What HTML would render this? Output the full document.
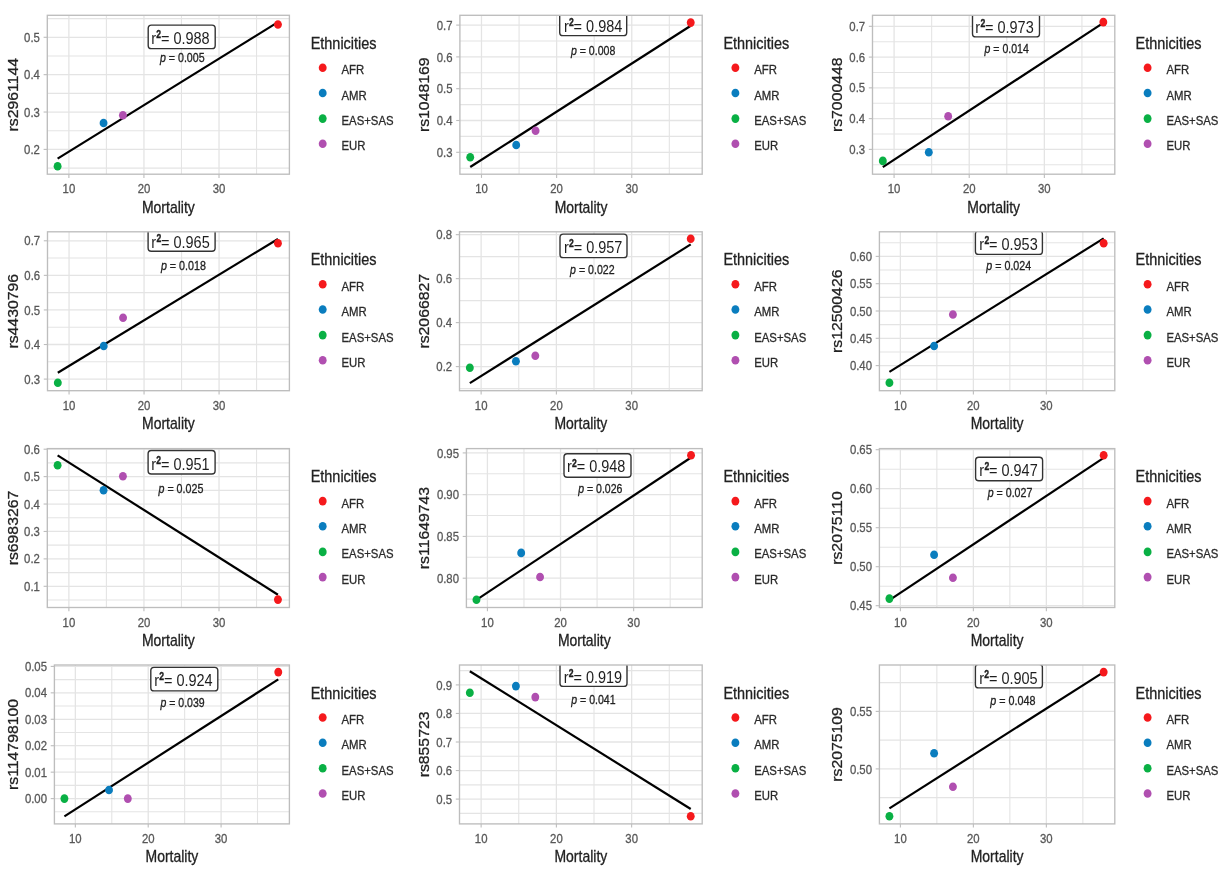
<!DOCTYPE html>
<html><head><meta charset="utf-8"><style>
html,body{margin:0;padding:0;background:#fff;}
svg{display:block;filter:blur(0.35px);}

</style></head><body>
<svg width="1226" height="875" viewBox="0 0 1226 875">
<rect width="1226" height="875" fill="#fff"/>
<clipPath id="c0"><rect x="47.3" y="15.3" width="242.1" height="158.9"/></clipPath>
<g clip-path="url(#c0)">
<line x1="47.3" x2="289.4" y1="168.09" y2="168.09" stroke="#E4E4E4" stroke-width="1.1"/>
<line x1="47.3" x2="289.4" y1="130.72" y2="130.72" stroke="#E4E4E4" stroke-width="1.1"/>
<line x1="47.3" x2="289.4" y1="93.35" y2="93.35" stroke="#E4E4E4" stroke-width="1.1"/>
<line x1="47.3" x2="289.4" y1="55.98" y2="55.98" stroke="#E4E4E4" stroke-width="1.1"/>
<line x1="47.3" x2="289.4" y1="18.61" y2="18.61" stroke="#E4E4E4" stroke-width="1.1"/>
<line x1="106.41" x2="106.41" y1="15.3" y2="174.2" stroke="#E4E4E4" stroke-width="1.1"/>
<line x1="181.48" x2="181.48" y1="15.3" y2="174.2" stroke="#E4E4E4" stroke-width="1.1"/>
<line x1="256.55" x2="256.55" y1="15.3" y2="174.2" stroke="#E4E4E4" stroke-width="1.1"/>
<line x1="47.3" x2="289.4" y1="149.4" y2="149.4" stroke="#E4E4E4" stroke-width="1.3"/>
<line x1="47.3" x2="289.4" y1="112.03" y2="112.03" stroke="#E4E4E4" stroke-width="1.3"/>
<line x1="47.3" x2="289.4" y1="74.66" y2="74.66" stroke="#E4E4E4" stroke-width="1.3"/>
<line x1="47.3" x2="289.4" y1="37.29" y2="37.29" stroke="#E4E4E4" stroke-width="1.3"/>
<line x1="68.88" x2="68.88" y1="15.3" y2="174.2" stroke="#E4E4E4" stroke-width="1.3"/>
<line x1="143.94" x2="143.94" y1="15.3" y2="174.2" stroke="#E4E4E4" stroke-width="1.3"/>
<line x1="219.01" x2="219.01" y1="15.3" y2="174.2" stroke="#E4E4E4" stroke-width="1.3"/>
<line x1="57.61" y1="158.59" x2="277.94" y2="22.14" stroke="#000" stroke-width="2.2" stroke-linecap="butt"/>
<ellipse cx="57.61" cy="166.3" rx="3.95" ry="4.3" fill="#09B044"/>
<ellipse cx="103.56" cy="123" rx="3.95" ry="4.3" fill="#0A7DBE"/>
<ellipse cx="122.93" cy="115.2" rx="3.95" ry="4.3" fill="#B04FB0"/>
<ellipse cx="277.94" cy="24.5" rx="3.95" ry="4.3" fill="#F5191C"/>
<rect x="148.2" y="25.1" width="67" height="23.5" rx="3.2" fill="#fff" stroke="#333" stroke-width="1.4"/>
<text x="0" y="0" transform="translate(151.2,43.5) scale(0.862,1)" font-size="16.8" fill="#1e1e1e" font-family="Liberation Sans, sans-serif">r<tspan font-size="10" font-weight="bold" stroke="#1e1e1e" stroke-width="0.35" dy="-5.6" dx="0.3">2</tspan><tspan dy="5.6" dx="-0.2">= 0.988</tspan></text>
<text x="160" y="62.3" font-size="12.3" fill="#222" textLength="44.6" lengthAdjust="spacingAndGlyphs" font-family="Liberation Sans, sans-serif" stroke="#222" stroke-width="0.3"><tspan font-style="italic">p</tspan> = 0.005</text>
</g>
<rect x="47.3" y="15.3" width="242.1" height="158.9" fill="none" stroke="#BDBDBD" stroke-width="1.35"/>
<line x1="43.6" x2="47.3" y1="149.4" y2="149.4" stroke="#BDBDBD" stroke-width="1.1"/>
<text transform="translate(39.9,154) scale(0.88,1)" text-anchor="end" font-size="12.9" fill="#575757" font-family="Liberation Sans, sans-serif" stroke="#575757" stroke-width="0.3">0.2</text>
<line x1="43.6" x2="47.3" y1="112.03" y2="112.03" stroke="#BDBDBD" stroke-width="1.1"/>
<text transform="translate(39.9,116.63) scale(0.88,1)" text-anchor="end" font-size="12.9" fill="#575757" font-family="Liberation Sans, sans-serif" stroke="#575757" stroke-width="0.3">0.3</text>
<line x1="43.6" x2="47.3" y1="74.66" y2="74.66" stroke="#BDBDBD" stroke-width="1.1"/>
<text transform="translate(39.9,79.26) scale(0.88,1)" text-anchor="end" font-size="12.9" fill="#575757" font-family="Liberation Sans, sans-serif" stroke="#575757" stroke-width="0.3">0.4</text>
<line x1="43.6" x2="47.3" y1="37.29" y2="37.29" stroke="#BDBDBD" stroke-width="1.1"/>
<text transform="translate(39.9,41.89) scale(0.88,1)" text-anchor="end" font-size="12.9" fill="#575757" font-family="Liberation Sans, sans-serif" stroke="#575757" stroke-width="0.3">0.5</text>
<line x1="68.88" x2="68.88" y1="174.2" y2="177.9" stroke="#BDBDBD" stroke-width="1.1"/>
<text transform="translate(68.88,193.4) scale(0.88,1)" text-anchor="middle" font-size="12.9" fill="#575757" font-family="Liberation Sans, sans-serif" stroke="#575757" stroke-width="0.3">10</text>
<line x1="143.94" x2="143.94" y1="174.2" y2="177.9" stroke="#BDBDBD" stroke-width="1.1"/>
<text transform="translate(143.94,193.4) scale(0.88,1)" text-anchor="middle" font-size="12.9" fill="#575757" font-family="Liberation Sans, sans-serif" stroke="#575757" stroke-width="0.3">20</text>
<line x1="219.01" x2="219.01" y1="174.2" y2="177.9" stroke="#BDBDBD" stroke-width="1.1"/>
<text transform="translate(219.01,193.4) scale(0.88,1)" text-anchor="middle" font-size="12.9" fill="#575757" font-family="Liberation Sans, sans-serif" stroke="#575757" stroke-width="0.3">30</text>
<text transform="translate(168.35,212.5) scale(0.885,1)" text-anchor="middle" font-size="15.8" fill="#222" font-family="Liberation Sans, sans-serif" stroke="#222" stroke-width="0.3">Mortality</text>
<text transform="translate(17.6,94.75) scale(0.87,1) rotate(-90)" text-anchor="middle" font-size="15.8" fill="#222" font-family="Liberation Sans, sans-serif" stroke="#222" stroke-width="0.3">rs2961144</text>
<text transform="translate(310.7,48.9) scale(0.915,1)" font-size="15.8" fill="#222" font-family="Liberation Sans, sans-serif" stroke="#222" stroke-width="0.3">Ethnicities</text>
<ellipse cx="322.7" cy="67.8" rx="3.95" ry="4.3" fill="#F5191C"/>
<text transform="translate(341.5,74.3) scale(0.88,1)" font-size="12.9" fill="#2a2a2a" font-family="Liberation Sans, sans-serif" stroke="#2a2a2a" stroke-width="0.3">AFR</text>
<ellipse cx="322.7" cy="93" rx="3.95" ry="4.3" fill="#0A7DBE"/>
<text transform="translate(341.5,99.5) scale(0.88,1)" font-size="12.9" fill="#2a2a2a" font-family="Liberation Sans, sans-serif" stroke="#2a2a2a" stroke-width="0.3">AMR</text>
<ellipse cx="322.7" cy="118.6" rx="3.95" ry="4.3" fill="#09B044"/>
<text transform="translate(341.5,125.1) scale(0.88,1)" font-size="12.9" fill="#2a2a2a" font-family="Liberation Sans, sans-serif" stroke="#2a2a2a" stroke-width="0.3">EAS+SAS</text>
<ellipse cx="322.7" cy="143.8" rx="3.95" ry="4.3" fill="#B04FB0"/>
<text transform="translate(341.5,150.3) scale(0.88,1)" font-size="12.9" fill="#2a2a2a" font-family="Liberation Sans, sans-serif" stroke="#2a2a2a" stroke-width="0.3">EUR</text>
<clipPath id="c1"><rect x="459.9" y="15.3" width="242.3" height="158.9"/></clipPath>
<g clip-path="url(#c1)">
<line x1="459.9" x2="702.2" y1="168.2" y2="168.2" stroke="#E4E4E4" stroke-width="1.1"/>
<line x1="459.9" x2="702.2" y1="136.4" y2="136.4" stroke="#E4E4E4" stroke-width="1.1"/>
<line x1="459.9" x2="702.2" y1="104.6" y2="104.6" stroke="#E4E4E4" stroke-width="1.1"/>
<line x1="459.9" x2="702.2" y1="72.8" y2="72.8" stroke="#E4E4E4" stroke-width="1.1"/>
<line x1="459.9" x2="702.2" y1="41" y2="41" stroke="#E4E4E4" stroke-width="1.1"/>
<line x1="519.06" x2="519.06" y1="15.3" y2="174.2" stroke="#E4E4E4" stroke-width="1.1"/>
<line x1="594.19" x2="594.19" y1="15.3" y2="174.2" stroke="#E4E4E4" stroke-width="1.1"/>
<line x1="669.32" x2="669.32" y1="15.3" y2="174.2" stroke="#E4E4E4" stroke-width="1.1"/>
<line x1="459.9" x2="702.2" y1="152.3" y2="152.3" stroke="#E4E4E4" stroke-width="1.3"/>
<line x1="459.9" x2="702.2" y1="120.5" y2="120.5" stroke="#E4E4E4" stroke-width="1.3"/>
<line x1="459.9" x2="702.2" y1="88.7" y2="88.7" stroke="#E4E4E4" stroke-width="1.3"/>
<line x1="459.9" x2="702.2" y1="56.9" y2="56.9" stroke="#E4E4E4" stroke-width="1.3"/>
<line x1="459.9" x2="702.2" y1="25.1" y2="25.1" stroke="#E4E4E4" stroke-width="1.3"/>
<line x1="481.49" x2="481.49" y1="15.3" y2="174.2" stroke="#E4E4E4" stroke-width="1.3"/>
<line x1="556.62" x2="556.62" y1="15.3" y2="174.2" stroke="#E4E4E4" stroke-width="1.3"/>
<line x1="631.76" x2="631.76" y1="15.3" y2="174.2" stroke="#E4E4E4" stroke-width="1.3"/>
<line x1="470.22" y1="167" x2="690.73" y2="25.8" stroke="#000" stroke-width="2.2" stroke-linecap="butt"/>
<ellipse cx="470.22" cy="157.2" rx="3.95" ry="4.3" fill="#09B044"/>
<ellipse cx="516.2" cy="145" rx="3.95" ry="4.3" fill="#0A7DBE"/>
<ellipse cx="535.59" cy="130.7" rx="3.95" ry="4.3" fill="#B04FB0"/>
<ellipse cx="690.73" cy="22.6" rx="3.95" ry="4.3" fill="#F5191C"/>
<rect x="559.7" y="12.15" width="67" height="23.5" rx="3.2" fill="#fff" stroke="#333" stroke-width="1.4"/>
<text x="0" y="0" transform="translate(563.9,31.75) scale(0.862,1)" font-size="16.8" fill="#1e1e1e" font-family="Liberation Sans, sans-serif">r<tspan font-size="10" font-weight="bold" stroke="#1e1e1e" stroke-width="0.35" dy="-5.6" dx="0.3">2</tspan><tspan dy="5.6" dx="-0.2">= 0.984</tspan></text>
<text x="570.9" y="54.5" font-size="12.3" fill="#222" textLength="44.4" lengthAdjust="spacingAndGlyphs" font-family="Liberation Sans, sans-serif" stroke="#222" stroke-width="0.3"><tspan font-style="italic">p</tspan> = 0.008</text>
</g>
<rect x="459.9" y="15.3" width="242.3" height="158.9" fill="none" stroke="#BDBDBD" stroke-width="1.35"/>
<line x1="456.2" x2="459.9" y1="152.3" y2="152.3" stroke="#BDBDBD" stroke-width="1.1"/>
<text transform="translate(452.5,156.9) scale(0.88,1)" text-anchor="end" font-size="12.9" fill="#575757" font-family="Liberation Sans, sans-serif" stroke="#575757" stroke-width="0.3">0.3</text>
<line x1="456.2" x2="459.9" y1="120.5" y2="120.5" stroke="#BDBDBD" stroke-width="1.1"/>
<text transform="translate(452.5,125.1) scale(0.88,1)" text-anchor="end" font-size="12.9" fill="#575757" font-family="Liberation Sans, sans-serif" stroke="#575757" stroke-width="0.3">0.4</text>
<line x1="456.2" x2="459.9" y1="88.7" y2="88.7" stroke="#BDBDBD" stroke-width="1.1"/>
<text transform="translate(452.5,93.3) scale(0.88,1)" text-anchor="end" font-size="12.9" fill="#575757" font-family="Liberation Sans, sans-serif" stroke="#575757" stroke-width="0.3">0.5</text>
<line x1="456.2" x2="459.9" y1="56.9" y2="56.9" stroke="#BDBDBD" stroke-width="1.1"/>
<text transform="translate(452.5,61.5) scale(0.88,1)" text-anchor="end" font-size="12.9" fill="#575757" font-family="Liberation Sans, sans-serif" stroke="#575757" stroke-width="0.3">0.6</text>
<line x1="456.2" x2="459.9" y1="25.1" y2="25.1" stroke="#BDBDBD" stroke-width="1.1"/>
<text transform="translate(452.5,29.7) scale(0.88,1)" text-anchor="end" font-size="12.9" fill="#575757" font-family="Liberation Sans, sans-serif" stroke="#575757" stroke-width="0.3">0.7</text>
<line x1="481.49" x2="481.49" y1="174.2" y2="177.9" stroke="#BDBDBD" stroke-width="1.1"/>
<text transform="translate(481.49,193.4) scale(0.88,1)" text-anchor="middle" font-size="12.9" fill="#575757" font-family="Liberation Sans, sans-serif" stroke="#575757" stroke-width="0.3">10</text>
<line x1="556.62" x2="556.62" y1="174.2" y2="177.9" stroke="#BDBDBD" stroke-width="1.1"/>
<text transform="translate(556.62,193.4) scale(0.88,1)" text-anchor="middle" font-size="12.9" fill="#575757" font-family="Liberation Sans, sans-serif" stroke="#575757" stroke-width="0.3">20</text>
<line x1="631.76" x2="631.76" y1="174.2" y2="177.9" stroke="#BDBDBD" stroke-width="1.1"/>
<text transform="translate(631.76,193.4) scale(0.88,1)" text-anchor="middle" font-size="12.9" fill="#575757" font-family="Liberation Sans, sans-serif" stroke="#575757" stroke-width="0.3">30</text>
<text transform="translate(581.05,212.5) scale(0.885,1)" text-anchor="middle" font-size="15.8" fill="#222" font-family="Liberation Sans, sans-serif" stroke="#222" stroke-width="0.3">Mortality</text>
<text transform="translate(429.4,94.75) scale(0.87,1) rotate(-90)" text-anchor="middle" font-size="15.8" fill="#222" font-family="Liberation Sans, sans-serif" stroke="#222" stroke-width="0.3">rs1048169</text>
<text transform="translate(723.4,48.9) scale(0.915,1)" font-size="15.8" fill="#222" font-family="Liberation Sans, sans-serif" stroke="#222" stroke-width="0.3">Ethnicities</text>
<ellipse cx="735.4" cy="67.8" rx="3.95" ry="4.3" fill="#F5191C"/>
<text transform="translate(754.2,74.3) scale(0.88,1)" font-size="12.9" fill="#2a2a2a" font-family="Liberation Sans, sans-serif" stroke="#2a2a2a" stroke-width="0.3">AFR</text>
<ellipse cx="735.4" cy="93" rx="3.95" ry="4.3" fill="#0A7DBE"/>
<text transform="translate(754.2,99.5) scale(0.88,1)" font-size="12.9" fill="#2a2a2a" font-family="Liberation Sans, sans-serif" stroke="#2a2a2a" stroke-width="0.3">AMR</text>
<ellipse cx="735.4" cy="118.6" rx="3.95" ry="4.3" fill="#09B044"/>
<text transform="translate(754.2,125.1) scale(0.88,1)" font-size="12.9" fill="#2a2a2a" font-family="Liberation Sans, sans-serif" stroke="#2a2a2a" stroke-width="0.3">EAS+SAS</text>
<ellipse cx="735.4" cy="143.8" rx="3.95" ry="4.3" fill="#B04FB0"/>
<text transform="translate(754.2,150.3) scale(0.88,1)" font-size="12.9" fill="#2a2a2a" font-family="Liberation Sans, sans-serif" stroke="#2a2a2a" stroke-width="0.3">EUR</text>
<clipPath id="c2"><rect x="872.5" y="15.3" width="242.3" height="158.9"/></clipPath>
<g clip-path="url(#c2)">
<line x1="872.5" x2="1114.8" y1="164.78" y2="164.78" stroke="#E4E4E4" stroke-width="1.1"/>
<line x1="872.5" x2="1114.8" y1="134.02" y2="134.02" stroke="#E4E4E4" stroke-width="1.1"/>
<line x1="872.5" x2="1114.8" y1="103.25" y2="103.25" stroke="#E4E4E4" stroke-width="1.1"/>
<line x1="872.5" x2="1114.8" y1="72.48" y2="72.48" stroke="#E4E4E4" stroke-width="1.1"/>
<line x1="872.5" x2="1114.8" y1="41.71" y2="41.71" stroke="#E4E4E4" stroke-width="1.1"/>
<line x1="931.66" x2="931.66" y1="15.3" y2="174.2" stroke="#E4E4E4" stroke-width="1.1"/>
<line x1="1006.79" x2="1006.79" y1="15.3" y2="174.2" stroke="#E4E4E4" stroke-width="1.1"/>
<line x1="1081.92" x2="1081.92" y1="15.3" y2="174.2" stroke="#E4E4E4" stroke-width="1.1"/>
<line x1="872.5" x2="1114.8" y1="149.4" y2="149.4" stroke="#E4E4E4" stroke-width="1.3"/>
<line x1="872.5" x2="1114.8" y1="118.63" y2="118.63" stroke="#E4E4E4" stroke-width="1.3"/>
<line x1="872.5" x2="1114.8" y1="87.86" y2="87.86" stroke="#E4E4E4" stroke-width="1.3"/>
<line x1="872.5" x2="1114.8" y1="57.09" y2="57.09" stroke="#E4E4E4" stroke-width="1.3"/>
<line x1="872.5" x2="1114.8" y1="26.32" y2="26.32" stroke="#E4E4E4" stroke-width="1.3"/>
<line x1="894.09" x2="894.09" y1="15.3" y2="174.2" stroke="#E4E4E4" stroke-width="1.3"/>
<line x1="969.22" x2="969.22" y1="15.3" y2="174.2" stroke="#E4E4E4" stroke-width="1.3"/>
<line x1="1044.36" x2="1044.36" y1="15.3" y2="174.2" stroke="#E4E4E4" stroke-width="1.3"/>
<line x1="882.82" y1="167.18" x2="1103.33" y2="22.84" stroke="#000" stroke-width="2.2" stroke-linecap="butt"/>
<ellipse cx="882.82" cy="160.9" rx="3.95" ry="4.3" fill="#09B044"/>
<ellipse cx="928.8" cy="152.3" rx="3.95" ry="4.3" fill="#0A7DBE"/>
<ellipse cx="948.19" cy="116.2" rx="3.95" ry="4.3" fill="#B04FB0"/>
<ellipse cx="1103.33" cy="22.1" rx="3.95" ry="4.3" fill="#F5191C"/>
<rect x="972.5" y="13.35" width="67" height="23.5" rx="3.2" fill="#fff" stroke="#333" stroke-width="1.4"/>
<text x="0" y="0" transform="translate(975.3,32.6) scale(0.862,1)" font-size="16.8" fill="#1e1e1e" font-family="Liberation Sans, sans-serif">r<tspan font-size="10" font-weight="bold" stroke="#1e1e1e" stroke-width="0.35" dy="-5.6" dx="0.3">2</tspan><tspan dy="5.6" dx="-0.2">= 0.973</tspan></text>
<text x="984.5" y="53.2" font-size="12.3" fill="#222" textLength="44.3" lengthAdjust="spacingAndGlyphs" font-family="Liberation Sans, sans-serif" stroke="#222" stroke-width="0.3"><tspan font-style="italic">p</tspan> = 0.014</text>
</g>
<rect x="872.5" y="15.3" width="242.3" height="158.9" fill="none" stroke="#BDBDBD" stroke-width="1.35"/>
<line x1="868.8" x2="872.5" y1="149.4" y2="149.4" stroke="#BDBDBD" stroke-width="1.1"/>
<text transform="translate(865.1,154) scale(0.88,1)" text-anchor="end" font-size="12.9" fill="#575757" font-family="Liberation Sans, sans-serif" stroke="#575757" stroke-width="0.3">0.3</text>
<line x1="868.8" x2="872.5" y1="118.63" y2="118.63" stroke="#BDBDBD" stroke-width="1.1"/>
<text transform="translate(865.1,123.23) scale(0.88,1)" text-anchor="end" font-size="12.9" fill="#575757" font-family="Liberation Sans, sans-serif" stroke="#575757" stroke-width="0.3">0.4</text>
<line x1="868.8" x2="872.5" y1="87.86" y2="87.86" stroke="#BDBDBD" stroke-width="1.1"/>
<text transform="translate(865.1,92.46) scale(0.88,1)" text-anchor="end" font-size="12.9" fill="#575757" font-family="Liberation Sans, sans-serif" stroke="#575757" stroke-width="0.3">0.5</text>
<line x1="868.8" x2="872.5" y1="57.09" y2="57.09" stroke="#BDBDBD" stroke-width="1.1"/>
<text transform="translate(865.1,61.69) scale(0.88,1)" text-anchor="end" font-size="12.9" fill="#575757" font-family="Liberation Sans, sans-serif" stroke="#575757" stroke-width="0.3">0.6</text>
<line x1="868.8" x2="872.5" y1="26.32" y2="26.32" stroke="#BDBDBD" stroke-width="1.1"/>
<text transform="translate(865.1,30.92) scale(0.88,1)" text-anchor="end" font-size="12.9" fill="#575757" font-family="Liberation Sans, sans-serif" stroke="#575757" stroke-width="0.3">0.7</text>
<line x1="894.09" x2="894.09" y1="174.2" y2="177.9" stroke="#BDBDBD" stroke-width="1.1"/>
<text transform="translate(894.09,193.4) scale(0.88,1)" text-anchor="middle" font-size="12.9" fill="#575757" font-family="Liberation Sans, sans-serif" stroke="#575757" stroke-width="0.3">10</text>
<line x1="969.22" x2="969.22" y1="174.2" y2="177.9" stroke="#BDBDBD" stroke-width="1.1"/>
<text transform="translate(969.22,193.4) scale(0.88,1)" text-anchor="middle" font-size="12.9" fill="#575757" font-family="Liberation Sans, sans-serif" stroke="#575757" stroke-width="0.3">20</text>
<line x1="1044.36" x2="1044.36" y1="174.2" y2="177.9" stroke="#BDBDBD" stroke-width="1.1"/>
<text transform="translate(1044.36,193.4) scale(0.88,1)" text-anchor="middle" font-size="12.9" fill="#575757" font-family="Liberation Sans, sans-serif" stroke="#575757" stroke-width="0.3">30</text>
<text transform="translate(993.65,212.5) scale(0.885,1)" text-anchor="middle" font-size="15.8" fill="#222" font-family="Liberation Sans, sans-serif" stroke="#222" stroke-width="0.3">Mortality</text>
<text transform="translate(842.2,94.75) scale(0.87,1) rotate(-90)" text-anchor="middle" font-size="15.8" fill="#222" font-family="Liberation Sans, sans-serif" stroke="#222" stroke-width="0.3">rs7000448</text>
<text transform="translate(1135.6,48.9) scale(0.915,1)" font-size="15.8" fill="#222" font-family="Liberation Sans, sans-serif" stroke="#222" stroke-width="0.3">Ethnicities</text>
<ellipse cx="1147.6" cy="67.8" rx="3.95" ry="4.3" fill="#F5191C"/>
<text transform="translate(1166.4,74.3) scale(0.88,1)" font-size="12.9" fill="#2a2a2a" font-family="Liberation Sans, sans-serif" stroke="#2a2a2a" stroke-width="0.3">AFR</text>
<ellipse cx="1147.6" cy="93" rx="3.95" ry="4.3" fill="#0A7DBE"/>
<text transform="translate(1166.4,99.5) scale(0.88,1)" font-size="12.9" fill="#2a2a2a" font-family="Liberation Sans, sans-serif" stroke="#2a2a2a" stroke-width="0.3">AMR</text>
<ellipse cx="1147.6" cy="118.6" rx="3.95" ry="4.3" fill="#09B044"/>
<text transform="translate(1166.4,125.1) scale(0.88,1)" font-size="12.9" fill="#2a2a2a" font-family="Liberation Sans, sans-serif" stroke="#2a2a2a" stroke-width="0.3">EAS+SAS</text>
<ellipse cx="1147.6" cy="143.8" rx="3.95" ry="4.3" fill="#B04FB0"/>
<text transform="translate(1166.4,150.3) scale(0.88,1)" font-size="12.9" fill="#2a2a2a" font-family="Liberation Sans, sans-serif" stroke="#2a2a2a" stroke-width="0.3">EUR</text>
<clipPath id="c3"><rect x="47.5" y="231.8" width="241.9" height="158.9"/></clipPath>
<g clip-path="url(#c3)">
<line x1="47.5" x2="289.4" y1="361.81" y2="361.81" stroke="#E4E4E4" stroke-width="1.1"/>
<line x1="47.5" x2="289.4" y1="327.23" y2="327.23" stroke="#E4E4E4" stroke-width="1.1"/>
<line x1="47.5" x2="289.4" y1="292.65" y2="292.65" stroke="#E4E4E4" stroke-width="1.1"/>
<line x1="47.5" x2="289.4" y1="258.07" y2="258.07" stroke="#E4E4E4" stroke-width="1.1"/>
<line x1="106.56" x2="106.56" y1="231.8" y2="390.7" stroke="#E4E4E4" stroke-width="1.1"/>
<line x1="181.57" x2="181.57" y1="231.8" y2="390.7" stroke="#E4E4E4" stroke-width="1.1"/>
<line x1="256.58" x2="256.58" y1="231.8" y2="390.7" stroke="#E4E4E4" stroke-width="1.1"/>
<line x1="47.5" x2="289.4" y1="379.1" y2="379.1" stroke="#E4E4E4" stroke-width="1.3"/>
<line x1="47.5" x2="289.4" y1="344.52" y2="344.52" stroke="#E4E4E4" stroke-width="1.3"/>
<line x1="47.5" x2="289.4" y1="309.94" y2="309.94" stroke="#E4E4E4" stroke-width="1.3"/>
<line x1="47.5" x2="289.4" y1="275.36" y2="275.36" stroke="#E4E4E4" stroke-width="1.3"/>
<line x1="47.5" x2="289.4" y1="240.78" y2="240.78" stroke="#E4E4E4" stroke-width="1.3"/>
<line x1="69.06" x2="69.06" y1="231.8" y2="390.7" stroke="#E4E4E4" stroke-width="1.3"/>
<line x1="144.06" x2="144.06" y1="231.8" y2="390.7" stroke="#E4E4E4" stroke-width="1.3"/>
<line x1="219.07" x2="219.07" y1="231.8" y2="390.7" stroke="#E4E4E4" stroke-width="1.3"/>
<line x1="57.81" y1="372.81" x2="277.95" y2="238.95" stroke="#000" stroke-width="2.2" stroke-linecap="butt"/>
<ellipse cx="57.81" cy="382.8" rx="3.95" ry="4.3" fill="#09B044"/>
<ellipse cx="103.71" cy="346" rx="3.95" ry="4.3" fill="#0A7DBE"/>
<ellipse cx="123.06" cy="317.7" rx="3.95" ry="4.3" fill="#B04FB0"/>
<ellipse cx="277.95" cy="243.3" rx="3.95" ry="4.3" fill="#F5191C"/>
<rect x="148.1" y="227.8" width="67" height="23.5" rx="3.2" fill="#fff" stroke="#333" stroke-width="1.4"/>
<text x="0" y="0" transform="translate(151.3,247.5) scale(0.862,1)" font-size="16.8" fill="#1e1e1e" font-family="Liberation Sans, sans-serif">r<tspan font-size="10" font-weight="bold" stroke="#1e1e1e" stroke-width="0.35" dy="-5.6" dx="0.3">2</tspan><tspan dy="5.6" dx="-0.2">= 0.965</tspan></text>
<text x="160.9" y="269.5" font-size="12.3" fill="#222" textLength="45" lengthAdjust="spacingAndGlyphs" font-family="Liberation Sans, sans-serif" stroke="#222" stroke-width="0.3"><tspan font-style="italic">p</tspan> = 0.018</text>
</g>
<rect x="47.5" y="231.8" width="241.9" height="158.9" fill="none" stroke="#BDBDBD" stroke-width="1.35"/>
<line x1="43.8" x2="47.5" y1="379.1" y2="379.1" stroke="#BDBDBD" stroke-width="1.1"/>
<text transform="translate(40.1,383.7) scale(0.88,1)" text-anchor="end" font-size="12.9" fill="#575757" font-family="Liberation Sans, sans-serif" stroke="#575757" stroke-width="0.3">0.3</text>
<line x1="43.8" x2="47.5" y1="344.52" y2="344.52" stroke="#BDBDBD" stroke-width="1.1"/>
<text transform="translate(40.1,349.12) scale(0.88,1)" text-anchor="end" font-size="12.9" fill="#575757" font-family="Liberation Sans, sans-serif" stroke="#575757" stroke-width="0.3">0.4</text>
<line x1="43.8" x2="47.5" y1="309.94" y2="309.94" stroke="#BDBDBD" stroke-width="1.1"/>
<text transform="translate(40.1,314.54) scale(0.88,1)" text-anchor="end" font-size="12.9" fill="#575757" font-family="Liberation Sans, sans-serif" stroke="#575757" stroke-width="0.3">0.5</text>
<line x1="43.8" x2="47.5" y1="275.36" y2="275.36" stroke="#BDBDBD" stroke-width="1.1"/>
<text transform="translate(40.1,279.96) scale(0.88,1)" text-anchor="end" font-size="12.9" fill="#575757" font-family="Liberation Sans, sans-serif" stroke="#575757" stroke-width="0.3">0.6</text>
<line x1="43.8" x2="47.5" y1="240.78" y2="240.78" stroke="#BDBDBD" stroke-width="1.1"/>
<text transform="translate(40.1,245.38) scale(0.88,1)" text-anchor="end" font-size="12.9" fill="#575757" font-family="Liberation Sans, sans-serif" stroke="#575757" stroke-width="0.3">0.7</text>
<line x1="69.06" x2="69.06" y1="390.7" y2="394.4" stroke="#BDBDBD" stroke-width="1.1"/>
<text transform="translate(69.06,409.9) scale(0.88,1)" text-anchor="middle" font-size="12.9" fill="#575757" font-family="Liberation Sans, sans-serif" stroke="#575757" stroke-width="0.3">10</text>
<line x1="144.06" x2="144.06" y1="390.7" y2="394.4" stroke="#BDBDBD" stroke-width="1.1"/>
<text transform="translate(144.06,409.9) scale(0.88,1)" text-anchor="middle" font-size="12.9" fill="#575757" font-family="Liberation Sans, sans-serif" stroke="#575757" stroke-width="0.3">20</text>
<line x1="219.07" x2="219.07" y1="390.7" y2="394.4" stroke="#BDBDBD" stroke-width="1.1"/>
<text transform="translate(219.07,409.9) scale(0.88,1)" text-anchor="middle" font-size="12.9" fill="#575757" font-family="Liberation Sans, sans-serif" stroke="#575757" stroke-width="0.3">30</text>
<text transform="translate(168.45,429) scale(0.885,1)" text-anchor="middle" font-size="15.8" fill="#222" font-family="Liberation Sans, sans-serif" stroke="#222" stroke-width="0.3">Mortality</text>
<text transform="translate(17.6,311.25) scale(0.87,1) rotate(-90)" text-anchor="middle" font-size="15.8" fill="#222" font-family="Liberation Sans, sans-serif" stroke="#222" stroke-width="0.3">rs4430796</text>
<text transform="translate(310.7,265.4) scale(0.915,1)" font-size="15.8" fill="#222" font-family="Liberation Sans, sans-serif" stroke="#222" stroke-width="0.3">Ethnicities</text>
<ellipse cx="322.7" cy="284.3" rx="3.95" ry="4.3" fill="#F5191C"/>
<text transform="translate(341.5,290.8) scale(0.88,1)" font-size="12.9" fill="#2a2a2a" font-family="Liberation Sans, sans-serif" stroke="#2a2a2a" stroke-width="0.3">AFR</text>
<ellipse cx="322.7" cy="309.5" rx="3.95" ry="4.3" fill="#0A7DBE"/>
<text transform="translate(341.5,316) scale(0.88,1)" font-size="12.9" fill="#2a2a2a" font-family="Liberation Sans, sans-serif" stroke="#2a2a2a" stroke-width="0.3">AMR</text>
<ellipse cx="322.7" cy="335.1" rx="3.95" ry="4.3" fill="#09B044"/>
<text transform="translate(341.5,341.6) scale(0.88,1)" font-size="12.9" fill="#2a2a2a" font-family="Liberation Sans, sans-serif" stroke="#2a2a2a" stroke-width="0.3">EAS+SAS</text>
<ellipse cx="322.7" cy="360.3" rx="3.95" ry="4.3" fill="#B04FB0"/>
<text transform="translate(341.5,366.8) scale(0.88,1)" font-size="12.9" fill="#2a2a2a" font-family="Liberation Sans, sans-serif" stroke="#2a2a2a" stroke-width="0.3">EUR</text>
<clipPath id="c4"><rect x="459.5" y="231.8" width="242.7" height="158.9"/></clipPath>
<g clip-path="url(#c4)">
<line x1="459.5" x2="702.2" y1="388.59" y2="388.59" stroke="#E4E4E4" stroke-width="1.1"/>
<line x1="459.5" x2="702.2" y1="344.61" y2="344.61" stroke="#E4E4E4" stroke-width="1.1"/>
<line x1="459.5" x2="702.2" y1="300.63" y2="300.63" stroke="#E4E4E4" stroke-width="1.1"/>
<line x1="459.5" x2="702.2" y1="256.65" y2="256.65" stroke="#E4E4E4" stroke-width="1.1"/>
<line x1="518.76" x2="518.76" y1="231.8" y2="390.7" stroke="#E4E4E4" stroke-width="1.1"/>
<line x1="594.01" x2="594.01" y1="231.8" y2="390.7" stroke="#E4E4E4" stroke-width="1.1"/>
<line x1="669.27" x2="669.27" y1="231.8" y2="390.7" stroke="#E4E4E4" stroke-width="1.1"/>
<line x1="459.5" x2="702.2" y1="366.6" y2="366.6" stroke="#E4E4E4" stroke-width="1.3"/>
<line x1="459.5" x2="702.2" y1="322.62" y2="322.62" stroke="#E4E4E4" stroke-width="1.3"/>
<line x1="459.5" x2="702.2" y1="278.64" y2="278.64" stroke="#E4E4E4" stroke-width="1.3"/>
<line x1="459.5" x2="702.2" y1="234.66" y2="234.66" stroke="#E4E4E4" stroke-width="1.3"/>
<line x1="481.13" x2="481.13" y1="231.8" y2="390.7" stroke="#E4E4E4" stroke-width="1.3"/>
<line x1="556.38" x2="556.38" y1="231.8" y2="390.7" stroke="#E4E4E4" stroke-width="1.3"/>
<line x1="631.64" x2="631.64" y1="231.8" y2="390.7" stroke="#E4E4E4" stroke-width="1.3"/>
<line x1="469.84" y1="383.1" x2="690.72" y2="244.37" stroke="#000" stroke-width="2.2" stroke-linecap="butt"/>
<ellipse cx="469.84" cy="367.8" rx="3.95" ry="4.3" fill="#09B044"/>
<ellipse cx="515.9" cy="361.2" rx="3.95" ry="4.3" fill="#0A7DBE"/>
<ellipse cx="535.31" cy="355.8" rx="3.95" ry="4.3" fill="#B04FB0"/>
<ellipse cx="690.72" cy="238.8" rx="3.95" ry="4.3" fill="#F5191C"/>
<rect x="560" y="234.1" width="67" height="23.5" rx="3.2" fill="#fff" stroke="#333" stroke-width="1.4"/>
<text x="0" y="0" transform="translate(564,252.6) scale(0.862,1)" font-size="16.8" fill="#1e1e1e" font-family="Liberation Sans, sans-serif">r<tspan font-size="10" font-weight="bold" stroke="#1e1e1e" stroke-width="0.35" dy="-5.6" dx="0.3">2</tspan><tspan dy="5.6" dx="-0.2">= 0.957</tspan></text>
<text x="570.1" y="273.6" font-size="12.3" fill="#222" textLength="44.5" lengthAdjust="spacingAndGlyphs" font-family="Liberation Sans, sans-serif" stroke="#222" stroke-width="0.3"><tspan font-style="italic">p</tspan> = 0.022</text>
</g>
<rect x="459.5" y="231.8" width="242.7" height="158.9" fill="none" stroke="#BDBDBD" stroke-width="1.35"/>
<line x1="455.8" x2="459.5" y1="366.6" y2="366.6" stroke="#BDBDBD" stroke-width="1.1"/>
<text transform="translate(452.1,371.2) scale(0.88,1)" text-anchor="end" font-size="12.9" fill="#575757" font-family="Liberation Sans, sans-serif" stroke="#575757" stroke-width="0.3">0.2</text>
<line x1="455.8" x2="459.5" y1="322.62" y2="322.62" stroke="#BDBDBD" stroke-width="1.1"/>
<text transform="translate(452.1,327.22) scale(0.88,1)" text-anchor="end" font-size="12.9" fill="#575757" font-family="Liberation Sans, sans-serif" stroke="#575757" stroke-width="0.3">0.4</text>
<line x1="455.8" x2="459.5" y1="278.64" y2="278.64" stroke="#BDBDBD" stroke-width="1.1"/>
<text transform="translate(452.1,283.24) scale(0.88,1)" text-anchor="end" font-size="12.9" fill="#575757" font-family="Liberation Sans, sans-serif" stroke="#575757" stroke-width="0.3">0.6</text>
<line x1="455.8" x2="459.5" y1="234.66" y2="234.66" stroke="#BDBDBD" stroke-width="1.1"/>
<text transform="translate(452.1,239.26) scale(0.88,1)" text-anchor="end" font-size="12.9" fill="#575757" font-family="Liberation Sans, sans-serif" stroke="#575757" stroke-width="0.3">0.8</text>
<line x1="481.13" x2="481.13" y1="390.7" y2="394.4" stroke="#BDBDBD" stroke-width="1.1"/>
<text transform="translate(481.13,409.9) scale(0.88,1)" text-anchor="middle" font-size="12.9" fill="#575757" font-family="Liberation Sans, sans-serif" stroke="#575757" stroke-width="0.3">10</text>
<line x1="556.38" x2="556.38" y1="390.7" y2="394.4" stroke="#BDBDBD" stroke-width="1.1"/>
<text transform="translate(556.38,409.9) scale(0.88,1)" text-anchor="middle" font-size="12.9" fill="#575757" font-family="Liberation Sans, sans-serif" stroke="#575757" stroke-width="0.3">20</text>
<line x1="631.64" x2="631.64" y1="390.7" y2="394.4" stroke="#BDBDBD" stroke-width="1.1"/>
<text transform="translate(631.64,409.9) scale(0.88,1)" text-anchor="middle" font-size="12.9" fill="#575757" font-family="Liberation Sans, sans-serif" stroke="#575757" stroke-width="0.3">30</text>
<text transform="translate(580.85,429) scale(0.885,1)" text-anchor="middle" font-size="15.8" fill="#222" font-family="Liberation Sans, sans-serif" stroke="#222" stroke-width="0.3">Mortality</text>
<text transform="translate(429.4,311.25) scale(0.87,1) rotate(-90)" text-anchor="middle" font-size="15.8" fill="#222" font-family="Liberation Sans, sans-serif" stroke="#222" stroke-width="0.3">rs2066827</text>
<text transform="translate(723.4,265.4) scale(0.915,1)" font-size="15.8" fill="#222" font-family="Liberation Sans, sans-serif" stroke="#222" stroke-width="0.3">Ethnicities</text>
<ellipse cx="735.4" cy="284.3" rx="3.95" ry="4.3" fill="#F5191C"/>
<text transform="translate(754.2,290.8) scale(0.88,1)" font-size="12.9" fill="#2a2a2a" font-family="Liberation Sans, sans-serif" stroke="#2a2a2a" stroke-width="0.3">AFR</text>
<ellipse cx="735.4" cy="309.5" rx="3.95" ry="4.3" fill="#0A7DBE"/>
<text transform="translate(754.2,316) scale(0.88,1)" font-size="12.9" fill="#2a2a2a" font-family="Liberation Sans, sans-serif" stroke="#2a2a2a" stroke-width="0.3">AMR</text>
<ellipse cx="735.4" cy="335.1" rx="3.95" ry="4.3" fill="#09B044"/>
<text transform="translate(754.2,341.6) scale(0.88,1)" font-size="12.9" fill="#2a2a2a" font-family="Liberation Sans, sans-serif" stroke="#2a2a2a" stroke-width="0.3">EAS+SAS</text>
<ellipse cx="735.4" cy="360.3" rx="3.95" ry="4.3" fill="#B04FB0"/>
<text transform="translate(754.2,366.8) scale(0.88,1)" font-size="12.9" fill="#2a2a2a" font-family="Liberation Sans, sans-serif" stroke="#2a2a2a" stroke-width="0.3">EUR</text>
<clipPath id="c5"><rect x="879.4" y="231.8" width="235.4" height="158.9"/></clipPath>
<g clip-path="url(#c5)">
<line x1="879.4" x2="1114.8" y1="379.25" y2="379.25" stroke="#E4E4E4" stroke-width="1.1"/>
<line x1="879.4" x2="1114.8" y1="351.95" y2="351.95" stroke="#E4E4E4" stroke-width="1.1"/>
<line x1="879.4" x2="1114.8" y1="324.65" y2="324.65" stroke="#E4E4E4" stroke-width="1.1"/>
<line x1="879.4" x2="1114.8" y1="297.35" y2="297.35" stroke="#E4E4E4" stroke-width="1.1"/>
<line x1="879.4" x2="1114.8" y1="270.05" y2="270.05" stroke="#E4E4E4" stroke-width="1.1"/>
<line x1="879.4" x2="1114.8" y1="242.75" y2="242.75" stroke="#E4E4E4" stroke-width="1.1"/>
<line x1="936.87" x2="936.87" y1="231.8" y2="390.7" stroke="#E4E4E4" stroke-width="1.1"/>
<line x1="1009.87" x2="1009.87" y1="231.8" y2="390.7" stroke="#E4E4E4" stroke-width="1.1"/>
<line x1="1082.86" x2="1082.86" y1="231.8" y2="390.7" stroke="#E4E4E4" stroke-width="1.1"/>
<line x1="879.4" x2="1114.8" y1="365.6" y2="365.6" stroke="#E4E4E4" stroke-width="1.3"/>
<line x1="879.4" x2="1114.8" y1="338.3" y2="338.3" stroke="#E4E4E4" stroke-width="1.3"/>
<line x1="879.4" x2="1114.8" y1="311" y2="311" stroke="#E4E4E4" stroke-width="1.3"/>
<line x1="879.4" x2="1114.8" y1="283.7" y2="283.7" stroke="#E4E4E4" stroke-width="1.3"/>
<line x1="879.4" x2="1114.8" y1="256.4" y2="256.4" stroke="#E4E4E4" stroke-width="1.3"/>
<line x1="900.38" x2="900.38" y1="231.8" y2="390.7" stroke="#E4E4E4" stroke-width="1.3"/>
<line x1="973.37" x2="973.37" y1="231.8" y2="390.7" stroke="#E4E4E4" stroke-width="1.3"/>
<line x1="1046.36" x2="1046.36" y1="231.8" y2="390.7" stroke="#E4E4E4" stroke-width="1.3"/>
<line x1="889.43" y1="371.84" x2="1103.66" y2="238.44" stroke="#000" stroke-width="2.2" stroke-linecap="butt"/>
<ellipse cx="889.43" cy="382.8" rx="3.95" ry="4.3" fill="#09B044"/>
<ellipse cx="934.1" cy="346" rx="3.95" ry="4.3" fill="#0A7DBE"/>
<ellipse cx="952.93" cy="314.5" rx="3.95" ry="4.3" fill="#B04FB0"/>
<ellipse cx="1103.66" cy="243.3" rx="3.95" ry="4.3" fill="#F5191C"/>
<rect x="975.4" y="230.9" width="67" height="23.5" rx="3.2" fill="#fff" stroke="#333" stroke-width="1.4"/>
<text x="0" y="0" transform="translate(979.3,249.6) scale(0.862,1)" font-size="16.8" fill="#1e1e1e" font-family="Liberation Sans, sans-serif">r<tspan font-size="10" font-weight="bold" stroke="#1e1e1e" stroke-width="0.35" dy="-5.6" dx="0.3">2</tspan><tspan dy="5.6" dx="-0.2">= 0.953</tspan></text>
<text x="986.3" y="269.5" font-size="12.3" fill="#222" textLength="44.9" lengthAdjust="spacingAndGlyphs" font-family="Liberation Sans, sans-serif" stroke="#222" stroke-width="0.3"><tspan font-style="italic">p</tspan> = 0.024</text>
</g>
<rect x="879.4" y="231.8" width="235.4" height="158.9" fill="none" stroke="#BDBDBD" stroke-width="1.35"/>
<line x1="875.7" x2="879.4" y1="365.6" y2="365.6" stroke="#BDBDBD" stroke-width="1.1"/>
<text transform="translate(872,370.2) scale(0.88,1)" text-anchor="end" font-size="12.9" fill="#575757" font-family="Liberation Sans, sans-serif" stroke="#575757" stroke-width="0.3">0.40</text>
<line x1="875.7" x2="879.4" y1="338.3" y2="338.3" stroke="#BDBDBD" stroke-width="1.1"/>
<text transform="translate(872,342.9) scale(0.88,1)" text-anchor="end" font-size="12.9" fill="#575757" font-family="Liberation Sans, sans-serif" stroke="#575757" stroke-width="0.3">0.45</text>
<line x1="875.7" x2="879.4" y1="311" y2="311" stroke="#BDBDBD" stroke-width="1.1"/>
<text transform="translate(872,315.6) scale(0.88,1)" text-anchor="end" font-size="12.9" fill="#575757" font-family="Liberation Sans, sans-serif" stroke="#575757" stroke-width="0.3">0.50</text>
<line x1="875.7" x2="879.4" y1="283.7" y2="283.7" stroke="#BDBDBD" stroke-width="1.1"/>
<text transform="translate(872,288.3) scale(0.88,1)" text-anchor="end" font-size="12.9" fill="#575757" font-family="Liberation Sans, sans-serif" stroke="#575757" stroke-width="0.3">0.55</text>
<line x1="875.7" x2="879.4" y1="256.4" y2="256.4" stroke="#BDBDBD" stroke-width="1.1"/>
<text transform="translate(872,261) scale(0.88,1)" text-anchor="end" font-size="12.9" fill="#575757" font-family="Liberation Sans, sans-serif" stroke="#575757" stroke-width="0.3">0.60</text>
<line x1="900.38" x2="900.38" y1="390.7" y2="394.4" stroke="#BDBDBD" stroke-width="1.1"/>
<text transform="translate(900.38,409.9) scale(0.88,1)" text-anchor="middle" font-size="12.9" fill="#575757" font-family="Liberation Sans, sans-serif" stroke="#575757" stroke-width="0.3">10</text>
<line x1="973.37" x2="973.37" y1="390.7" y2="394.4" stroke="#BDBDBD" stroke-width="1.1"/>
<text transform="translate(973.37,409.9) scale(0.88,1)" text-anchor="middle" font-size="12.9" fill="#575757" font-family="Liberation Sans, sans-serif" stroke="#575757" stroke-width="0.3">20</text>
<line x1="1046.36" x2="1046.36" y1="390.7" y2="394.4" stroke="#BDBDBD" stroke-width="1.1"/>
<text transform="translate(1046.36,409.9) scale(0.88,1)" text-anchor="middle" font-size="12.9" fill="#575757" font-family="Liberation Sans, sans-serif" stroke="#575757" stroke-width="0.3">30</text>
<text transform="translate(997.1,429) scale(0.885,1)" text-anchor="middle" font-size="15.8" fill="#222" font-family="Liberation Sans, sans-serif" stroke="#222" stroke-width="0.3">Mortality</text>
<text transform="translate(842.2,311.25) scale(0.87,1) rotate(-90)" text-anchor="middle" font-size="15.8" fill="#222" font-family="Liberation Sans, sans-serif" stroke="#222" stroke-width="0.3">rs12500426</text>
<text transform="translate(1135.6,265.4) scale(0.915,1)" font-size="15.8" fill="#222" font-family="Liberation Sans, sans-serif" stroke="#222" stroke-width="0.3">Ethnicities</text>
<ellipse cx="1147.6" cy="284.3" rx="3.95" ry="4.3" fill="#F5191C"/>
<text transform="translate(1166.4,290.8) scale(0.88,1)" font-size="12.9" fill="#2a2a2a" font-family="Liberation Sans, sans-serif" stroke="#2a2a2a" stroke-width="0.3">AFR</text>
<ellipse cx="1147.6" cy="309.5" rx="3.95" ry="4.3" fill="#0A7DBE"/>
<text transform="translate(1166.4,316) scale(0.88,1)" font-size="12.9" fill="#2a2a2a" font-family="Liberation Sans, sans-serif" stroke="#2a2a2a" stroke-width="0.3">AMR</text>
<ellipse cx="1147.6" cy="335.1" rx="3.95" ry="4.3" fill="#09B044"/>
<text transform="translate(1166.4,341.6) scale(0.88,1)" font-size="12.9" fill="#2a2a2a" font-family="Liberation Sans, sans-serif" stroke="#2a2a2a" stroke-width="0.3">EAS+SAS</text>
<ellipse cx="1147.6" cy="360.3" rx="3.95" ry="4.3" fill="#B04FB0"/>
<text transform="translate(1166.4,366.8) scale(0.88,1)" font-size="12.9" fill="#2a2a2a" font-family="Liberation Sans, sans-serif" stroke="#2a2a2a" stroke-width="0.3">EUR</text>
<clipPath id="c6"><rect x="47.3" y="448.6" width="242.1" height="158.9"/></clipPath>
<g clip-path="url(#c6)">
<line x1="47.3" x2="289.4" y1="600.01" y2="600.01" stroke="#E4E4E4" stroke-width="1.1"/>
<line x1="47.3" x2="289.4" y1="572.59" y2="572.59" stroke="#E4E4E4" stroke-width="1.1"/>
<line x1="47.3" x2="289.4" y1="545.17" y2="545.17" stroke="#E4E4E4" stroke-width="1.1"/>
<line x1="47.3" x2="289.4" y1="517.75" y2="517.75" stroke="#E4E4E4" stroke-width="1.1"/>
<line x1="47.3" x2="289.4" y1="490.33" y2="490.33" stroke="#E4E4E4" stroke-width="1.1"/>
<line x1="47.3" x2="289.4" y1="462.91" y2="462.91" stroke="#E4E4E4" stroke-width="1.1"/>
<line x1="106.41" x2="106.41" y1="448.6" y2="607.5" stroke="#E4E4E4" stroke-width="1.1"/>
<line x1="181.48" x2="181.48" y1="448.6" y2="607.5" stroke="#E4E4E4" stroke-width="1.1"/>
<line x1="256.55" x2="256.55" y1="448.6" y2="607.5" stroke="#E4E4E4" stroke-width="1.1"/>
<line x1="47.3" x2="289.4" y1="586.3" y2="586.3" stroke="#E4E4E4" stroke-width="1.3"/>
<line x1="47.3" x2="289.4" y1="558.88" y2="558.88" stroke="#E4E4E4" stroke-width="1.3"/>
<line x1="47.3" x2="289.4" y1="531.46" y2="531.46" stroke="#E4E4E4" stroke-width="1.3"/>
<line x1="47.3" x2="289.4" y1="504.04" y2="504.04" stroke="#E4E4E4" stroke-width="1.3"/>
<line x1="47.3" x2="289.4" y1="476.62" y2="476.62" stroke="#E4E4E4" stroke-width="1.3"/>
<line x1="47.3" x2="289.4" y1="449.2" y2="449.2" stroke="#E4E4E4" stroke-width="1.3"/>
<line x1="68.88" x2="68.88" y1="448.6" y2="607.5" stroke="#E4E4E4" stroke-width="1.3"/>
<line x1="143.94" x2="143.94" y1="448.6" y2="607.5" stroke="#E4E4E4" stroke-width="1.3"/>
<line x1="219.01" x2="219.01" y1="448.6" y2="607.5" stroke="#E4E4E4" stroke-width="1.3"/>
<line x1="57.61" y1="455.36" x2="277.94" y2="594.73" stroke="#000" stroke-width="2.2" stroke-linecap="butt"/>
<ellipse cx="57.61" cy="465.2" rx="3.95" ry="4.3" fill="#09B044"/>
<ellipse cx="103.56" cy="490.2" rx="3.95" ry="4.3" fill="#0A7DBE"/>
<ellipse cx="122.93" cy="476.2" rx="3.95" ry="4.3" fill="#B04FB0"/>
<ellipse cx="277.94" cy="599.6" rx="3.95" ry="4.3" fill="#F5191C"/>
<rect x="148.1" y="450.5" width="67" height="23.5" rx="3.2" fill="#fff" stroke="#333" stroke-width="1.4"/>
<text x="0" y="0" transform="translate(151.2,469.6) scale(0.862,1)" font-size="16.8" fill="#1e1e1e" font-family="Liberation Sans, sans-serif">r<tspan font-size="10" font-weight="bold" stroke="#1e1e1e" stroke-width="0.35" dy="-5.6" dx="0.3">2</tspan><tspan dy="5.6" dx="-0.2">= 0.951</tspan></text>
<text x="158.5" y="492.6" font-size="12.3" fill="#222" textLength="44.9" lengthAdjust="spacingAndGlyphs" font-family="Liberation Sans, sans-serif" stroke="#222" stroke-width="0.3"><tspan font-style="italic">p</tspan> = 0.025</text>
</g>
<rect x="47.3" y="448.6" width="242.1" height="158.9" fill="none" stroke="#BDBDBD" stroke-width="1.35"/>
<line x1="43.6" x2="47.3" y1="586.3" y2="586.3" stroke="#BDBDBD" stroke-width="1.1"/>
<text transform="translate(39.9,590.9) scale(0.88,1)" text-anchor="end" font-size="12.9" fill="#575757" font-family="Liberation Sans, sans-serif" stroke="#575757" stroke-width="0.3">0.1</text>
<line x1="43.6" x2="47.3" y1="558.88" y2="558.88" stroke="#BDBDBD" stroke-width="1.1"/>
<text transform="translate(39.9,563.48) scale(0.88,1)" text-anchor="end" font-size="12.9" fill="#575757" font-family="Liberation Sans, sans-serif" stroke="#575757" stroke-width="0.3">0.2</text>
<line x1="43.6" x2="47.3" y1="531.46" y2="531.46" stroke="#BDBDBD" stroke-width="1.1"/>
<text transform="translate(39.9,536.06) scale(0.88,1)" text-anchor="end" font-size="12.9" fill="#575757" font-family="Liberation Sans, sans-serif" stroke="#575757" stroke-width="0.3">0.3</text>
<line x1="43.6" x2="47.3" y1="504.04" y2="504.04" stroke="#BDBDBD" stroke-width="1.1"/>
<text transform="translate(39.9,508.64) scale(0.88,1)" text-anchor="end" font-size="12.9" fill="#575757" font-family="Liberation Sans, sans-serif" stroke="#575757" stroke-width="0.3">0.4</text>
<line x1="43.6" x2="47.3" y1="476.62" y2="476.62" stroke="#BDBDBD" stroke-width="1.1"/>
<text transform="translate(39.9,481.22) scale(0.88,1)" text-anchor="end" font-size="12.9" fill="#575757" font-family="Liberation Sans, sans-serif" stroke="#575757" stroke-width="0.3">0.5</text>
<line x1="43.6" x2="47.3" y1="449.2" y2="449.2" stroke="#BDBDBD" stroke-width="1.1"/>
<text transform="translate(39.9,453.8) scale(0.88,1)" text-anchor="end" font-size="12.9" fill="#575757" font-family="Liberation Sans, sans-serif" stroke="#575757" stroke-width="0.3">0.6</text>
<line x1="68.88" x2="68.88" y1="607.5" y2="611.2" stroke="#BDBDBD" stroke-width="1.1"/>
<text transform="translate(68.88,626.7) scale(0.88,1)" text-anchor="middle" font-size="12.9" fill="#575757" font-family="Liberation Sans, sans-serif" stroke="#575757" stroke-width="0.3">10</text>
<line x1="143.94" x2="143.94" y1="607.5" y2="611.2" stroke="#BDBDBD" stroke-width="1.1"/>
<text transform="translate(143.94,626.7) scale(0.88,1)" text-anchor="middle" font-size="12.9" fill="#575757" font-family="Liberation Sans, sans-serif" stroke="#575757" stroke-width="0.3">20</text>
<line x1="219.01" x2="219.01" y1="607.5" y2="611.2" stroke="#BDBDBD" stroke-width="1.1"/>
<text transform="translate(219.01,626.7) scale(0.88,1)" text-anchor="middle" font-size="12.9" fill="#575757" font-family="Liberation Sans, sans-serif" stroke="#575757" stroke-width="0.3">30</text>
<text transform="translate(168.35,645.8) scale(0.885,1)" text-anchor="middle" font-size="15.8" fill="#222" font-family="Liberation Sans, sans-serif" stroke="#222" stroke-width="0.3">Mortality</text>
<text transform="translate(17.6,528.05) scale(0.87,1) rotate(-90)" text-anchor="middle" font-size="15.8" fill="#222" font-family="Liberation Sans, sans-serif" stroke="#222" stroke-width="0.3">rs6983267</text>
<text transform="translate(310.7,482.2) scale(0.915,1)" font-size="15.8" fill="#222" font-family="Liberation Sans, sans-serif" stroke="#222" stroke-width="0.3">Ethnicities</text>
<ellipse cx="322.7" cy="501.1" rx="3.95" ry="4.3" fill="#F5191C"/>
<text transform="translate(341.5,507.6) scale(0.88,1)" font-size="12.9" fill="#2a2a2a" font-family="Liberation Sans, sans-serif" stroke="#2a2a2a" stroke-width="0.3">AFR</text>
<ellipse cx="322.7" cy="526.3" rx="3.95" ry="4.3" fill="#0A7DBE"/>
<text transform="translate(341.5,532.8) scale(0.88,1)" font-size="12.9" fill="#2a2a2a" font-family="Liberation Sans, sans-serif" stroke="#2a2a2a" stroke-width="0.3">AMR</text>
<ellipse cx="322.7" cy="551.9" rx="3.95" ry="4.3" fill="#09B044"/>
<text transform="translate(341.5,558.4) scale(0.88,1)" font-size="12.9" fill="#2a2a2a" font-family="Liberation Sans, sans-serif" stroke="#2a2a2a" stroke-width="0.3">EAS+SAS</text>
<ellipse cx="322.7" cy="577.1" rx="3.95" ry="4.3" fill="#B04FB0"/>
<text transform="translate(341.5,583.6) scale(0.88,1)" font-size="12.9" fill="#2a2a2a" font-family="Liberation Sans, sans-serif" stroke="#2a2a2a" stroke-width="0.3">EUR</text>
<clipPath id="c7"><rect x="466.4" y="448.6" width="235.8" height="158.9"/></clipPath>
<g clip-path="url(#c7)">
<line x1="466.4" x2="702.2" y1="599.08" y2="599.08" stroke="#E4E4E4" stroke-width="1.1"/>
<line x1="466.4" x2="702.2" y1="557.32" y2="557.32" stroke="#E4E4E4" stroke-width="1.1"/>
<line x1="466.4" x2="702.2" y1="515.55" y2="515.55" stroke="#E4E4E4" stroke-width="1.1"/>
<line x1="466.4" x2="702.2" y1="473.79" y2="473.79" stroke="#E4E4E4" stroke-width="1.1"/>
<line x1="523.97" x2="523.97" y1="448.6" y2="607.5" stroke="#E4E4E4" stroke-width="1.1"/>
<line x1="597.09" x2="597.09" y1="448.6" y2="607.5" stroke="#E4E4E4" stroke-width="1.1"/>
<line x1="670.2" x2="670.2" y1="448.6" y2="607.5" stroke="#E4E4E4" stroke-width="1.1"/>
<line x1="466.4" x2="702.2" y1="578.2" y2="578.2" stroke="#E4E4E4" stroke-width="1.3"/>
<line x1="466.4" x2="702.2" y1="536.44" y2="536.44" stroke="#E4E4E4" stroke-width="1.3"/>
<line x1="466.4" x2="702.2" y1="494.67" y2="494.67" stroke="#E4E4E4" stroke-width="1.3"/>
<line x1="466.4" x2="702.2" y1="452.91" y2="452.91" stroke="#E4E4E4" stroke-width="1.3"/>
<line x1="487.41" x2="487.41" y1="448.6" y2="607.5" stroke="#E4E4E4" stroke-width="1.3"/>
<line x1="560.53" x2="560.53" y1="448.6" y2="607.5" stroke="#E4E4E4" stroke-width="1.3"/>
<line x1="633.65" x2="633.65" y1="448.6" y2="607.5" stroke="#E4E4E4" stroke-width="1.3"/>
<line x1="476.45" y1="599.81" x2="691.04" y2="457.46" stroke="#000" stroke-width="2.2" stroke-linecap="butt"/>
<ellipse cx="476.45" cy="599.8" rx="3.95" ry="4.3" fill="#09B044"/>
<ellipse cx="521.19" cy="552.9" rx="3.95" ry="4.3" fill="#0A7DBE"/>
<ellipse cx="540.06" cy="577" rx="3.95" ry="4.3" fill="#B04FB0"/>
<ellipse cx="691.04" cy="455.3" rx="3.95" ry="4.3" fill="#F5191C"/>
<rect x="564" y="453.7" width="67" height="23.5" rx="3.2" fill="#fff" stroke="#333" stroke-width="1.4"/>
<text x="0" y="0" transform="translate(567,472.4) scale(0.862,1)" font-size="16.8" fill="#1e1e1e" font-family="Liberation Sans, sans-serif">r<tspan font-size="10" font-weight="bold" stroke="#1e1e1e" stroke-width="0.35" dy="-5.6" dx="0.3">2</tspan><tspan dy="5.6" dx="-0.2">= 0.948</tspan></text>
<text x="578.2" y="492.6" font-size="12.3" fill="#222" textLength="44.2" lengthAdjust="spacingAndGlyphs" font-family="Liberation Sans, sans-serif" stroke="#222" stroke-width="0.3"><tspan font-style="italic">p</tspan> = 0.026</text>
</g>
<rect x="466.4" y="448.6" width="235.8" height="158.9" fill="none" stroke="#BDBDBD" stroke-width="1.35"/>
<line x1="462.7" x2="466.4" y1="578.2" y2="578.2" stroke="#BDBDBD" stroke-width="1.1"/>
<text transform="translate(459,582.8) scale(0.88,1)" text-anchor="end" font-size="12.9" fill="#575757" font-family="Liberation Sans, sans-serif" stroke="#575757" stroke-width="0.3">0.80</text>
<line x1="462.7" x2="466.4" y1="536.44" y2="536.44" stroke="#BDBDBD" stroke-width="1.1"/>
<text transform="translate(459,541.04) scale(0.88,1)" text-anchor="end" font-size="12.9" fill="#575757" font-family="Liberation Sans, sans-serif" stroke="#575757" stroke-width="0.3">0.85</text>
<line x1="462.7" x2="466.4" y1="494.67" y2="494.67" stroke="#BDBDBD" stroke-width="1.1"/>
<text transform="translate(459,499.27) scale(0.88,1)" text-anchor="end" font-size="12.9" fill="#575757" font-family="Liberation Sans, sans-serif" stroke="#575757" stroke-width="0.3">0.90</text>
<line x1="462.7" x2="466.4" y1="452.91" y2="452.91" stroke="#BDBDBD" stroke-width="1.1"/>
<text transform="translate(459,457.51) scale(0.88,1)" text-anchor="end" font-size="12.9" fill="#575757" font-family="Liberation Sans, sans-serif" stroke="#575757" stroke-width="0.3">0.95</text>
<line x1="487.41" x2="487.41" y1="607.5" y2="611.2" stroke="#BDBDBD" stroke-width="1.1"/>
<text transform="translate(487.41,626.7) scale(0.88,1)" text-anchor="middle" font-size="12.9" fill="#575757" font-family="Liberation Sans, sans-serif" stroke="#575757" stroke-width="0.3">10</text>
<line x1="560.53" x2="560.53" y1="607.5" y2="611.2" stroke="#BDBDBD" stroke-width="1.1"/>
<text transform="translate(560.53,626.7) scale(0.88,1)" text-anchor="middle" font-size="12.9" fill="#575757" font-family="Liberation Sans, sans-serif" stroke="#575757" stroke-width="0.3">20</text>
<line x1="633.65" x2="633.65" y1="607.5" y2="611.2" stroke="#BDBDBD" stroke-width="1.1"/>
<text transform="translate(633.65,626.7) scale(0.88,1)" text-anchor="middle" font-size="12.9" fill="#575757" font-family="Liberation Sans, sans-serif" stroke="#575757" stroke-width="0.3">30</text>
<text transform="translate(584.3,645.8) scale(0.885,1)" text-anchor="middle" font-size="15.8" fill="#222" font-family="Liberation Sans, sans-serif" stroke="#222" stroke-width="0.3">Mortality</text>
<text transform="translate(429.4,528.05) scale(0.87,1) rotate(-90)" text-anchor="middle" font-size="15.8" fill="#222" font-family="Liberation Sans, sans-serif" stroke="#222" stroke-width="0.3">rs11649743</text>
<text transform="translate(723.4,482.2) scale(0.915,1)" font-size="15.8" fill="#222" font-family="Liberation Sans, sans-serif" stroke="#222" stroke-width="0.3">Ethnicities</text>
<ellipse cx="735.4" cy="501.1" rx="3.95" ry="4.3" fill="#F5191C"/>
<text transform="translate(754.2,507.6) scale(0.88,1)" font-size="12.9" fill="#2a2a2a" font-family="Liberation Sans, sans-serif" stroke="#2a2a2a" stroke-width="0.3">AFR</text>
<ellipse cx="735.4" cy="526.3" rx="3.95" ry="4.3" fill="#0A7DBE"/>
<text transform="translate(754.2,532.8) scale(0.88,1)" font-size="12.9" fill="#2a2a2a" font-family="Liberation Sans, sans-serif" stroke="#2a2a2a" stroke-width="0.3">AMR</text>
<ellipse cx="735.4" cy="551.9" rx="3.95" ry="4.3" fill="#09B044"/>
<text transform="translate(754.2,558.4) scale(0.88,1)" font-size="12.9" fill="#2a2a2a" font-family="Liberation Sans, sans-serif" stroke="#2a2a2a" stroke-width="0.3">EAS+SAS</text>
<ellipse cx="735.4" cy="577.1" rx="3.95" ry="4.3" fill="#B04FB0"/>
<text transform="translate(754.2,583.6) scale(0.88,1)" font-size="12.9" fill="#2a2a2a" font-family="Liberation Sans, sans-serif" stroke="#2a2a2a" stroke-width="0.3">EUR</text>
<clipPath id="c8"><rect x="879.4" y="448.6" width="235.4" height="158.9"/></clipPath>
<g clip-path="url(#c8)">
<line x1="879.4" x2="1114.8" y1="586.2" y2="586.2" stroke="#E4E4E4" stroke-width="1.1"/>
<line x1="879.4" x2="1114.8" y1="547.2" y2="547.2" stroke="#E4E4E4" stroke-width="1.1"/>
<line x1="879.4" x2="1114.8" y1="508.2" y2="508.2" stroke="#E4E4E4" stroke-width="1.1"/>
<line x1="879.4" x2="1114.8" y1="469.2" y2="469.2" stroke="#E4E4E4" stroke-width="1.1"/>
<line x1="936.87" x2="936.87" y1="448.6" y2="607.5" stroke="#E4E4E4" stroke-width="1.1"/>
<line x1="1009.87" x2="1009.87" y1="448.6" y2="607.5" stroke="#E4E4E4" stroke-width="1.1"/>
<line x1="1082.86" x2="1082.86" y1="448.6" y2="607.5" stroke="#E4E4E4" stroke-width="1.1"/>
<line x1="879.4" x2="1114.8" y1="605.7" y2="605.7" stroke="#E4E4E4" stroke-width="1.3"/>
<line x1="879.4" x2="1114.8" y1="566.7" y2="566.7" stroke="#E4E4E4" stroke-width="1.3"/>
<line x1="879.4" x2="1114.8" y1="527.7" y2="527.7" stroke="#E4E4E4" stroke-width="1.3"/>
<line x1="879.4" x2="1114.8" y1="488.7" y2="488.7" stroke="#E4E4E4" stroke-width="1.3"/>
<line x1="879.4" x2="1114.8" y1="449.7" y2="449.7" stroke="#E4E4E4" stroke-width="1.3"/>
<line x1="900.38" x2="900.38" y1="448.6" y2="607.5" stroke="#E4E4E4" stroke-width="1.3"/>
<line x1="973.37" x2="973.37" y1="448.6" y2="607.5" stroke="#E4E4E4" stroke-width="1.3"/>
<line x1="1046.36" x2="1046.36" y1="448.6" y2="607.5" stroke="#E4E4E4" stroke-width="1.3"/>
<line x1="889.43" y1="600.11" x2="1103.66" y2="457.89" stroke="#000" stroke-width="2.2" stroke-linecap="butt"/>
<ellipse cx="889.43" cy="598.6" rx="3.95" ry="4.3" fill="#09B044"/>
<ellipse cx="934.1" cy="554.8" rx="3.95" ry="4.3" fill="#0A7DBE"/>
<ellipse cx="952.93" cy="577.7" rx="3.95" ry="4.3" fill="#B04FB0"/>
<ellipse cx="1103.66" cy="455.3" rx="3.95" ry="4.3" fill="#F5191C"/>
<rect x="975.6" y="457.2" width="67" height="23.5" rx="3.2" fill="#fff" stroke="#333" stroke-width="1.4"/>
<text x="0" y="0" transform="translate(979.3,475.6) scale(0.862,1)" font-size="16.8" fill="#1e1e1e" font-family="Liberation Sans, sans-serif">r<tspan font-size="10" font-weight="bold" stroke="#1e1e1e" stroke-width="0.35" dy="-5.6" dx="0.3">2</tspan><tspan dy="5.6" dx="-0.2">= 0.947</tspan></text>
<text x="987.7" y="496.8" font-size="12.3" fill="#222" textLength="44.7" lengthAdjust="spacingAndGlyphs" font-family="Liberation Sans, sans-serif" stroke="#222" stroke-width="0.3"><tspan font-style="italic">p</tspan> = 0.027</text>
</g>
<rect x="879.4" y="448.6" width="235.4" height="158.9" fill="none" stroke="#BDBDBD" stroke-width="1.35"/>
<line x1="875.7" x2="879.4" y1="605.7" y2="605.7" stroke="#BDBDBD" stroke-width="1.1"/>
<text transform="translate(872,610.3) scale(0.88,1)" text-anchor="end" font-size="12.9" fill="#575757" font-family="Liberation Sans, sans-serif" stroke="#575757" stroke-width="0.3">0.45</text>
<line x1="875.7" x2="879.4" y1="566.7" y2="566.7" stroke="#BDBDBD" stroke-width="1.1"/>
<text transform="translate(872,571.3) scale(0.88,1)" text-anchor="end" font-size="12.9" fill="#575757" font-family="Liberation Sans, sans-serif" stroke="#575757" stroke-width="0.3">0.50</text>
<line x1="875.7" x2="879.4" y1="527.7" y2="527.7" stroke="#BDBDBD" stroke-width="1.1"/>
<text transform="translate(872,532.3) scale(0.88,1)" text-anchor="end" font-size="12.9" fill="#575757" font-family="Liberation Sans, sans-serif" stroke="#575757" stroke-width="0.3">0.55</text>
<line x1="875.7" x2="879.4" y1="488.7" y2="488.7" stroke="#BDBDBD" stroke-width="1.1"/>
<text transform="translate(872,493.3) scale(0.88,1)" text-anchor="end" font-size="12.9" fill="#575757" font-family="Liberation Sans, sans-serif" stroke="#575757" stroke-width="0.3">0.60</text>
<line x1="875.7" x2="879.4" y1="449.7" y2="449.7" stroke="#BDBDBD" stroke-width="1.1"/>
<text transform="translate(872,454.3) scale(0.88,1)" text-anchor="end" font-size="12.9" fill="#575757" font-family="Liberation Sans, sans-serif" stroke="#575757" stroke-width="0.3">0.65</text>
<line x1="900.38" x2="900.38" y1="607.5" y2="611.2" stroke="#BDBDBD" stroke-width="1.1"/>
<text transform="translate(900.38,626.7) scale(0.88,1)" text-anchor="middle" font-size="12.9" fill="#575757" font-family="Liberation Sans, sans-serif" stroke="#575757" stroke-width="0.3">10</text>
<line x1="973.37" x2="973.37" y1="607.5" y2="611.2" stroke="#BDBDBD" stroke-width="1.1"/>
<text transform="translate(973.37,626.7) scale(0.88,1)" text-anchor="middle" font-size="12.9" fill="#575757" font-family="Liberation Sans, sans-serif" stroke="#575757" stroke-width="0.3">20</text>
<line x1="1046.36" x2="1046.36" y1="607.5" y2="611.2" stroke="#BDBDBD" stroke-width="1.1"/>
<text transform="translate(1046.36,626.7) scale(0.88,1)" text-anchor="middle" font-size="12.9" fill="#575757" font-family="Liberation Sans, sans-serif" stroke="#575757" stroke-width="0.3">30</text>
<text transform="translate(997.1,645.8) scale(0.885,1)" text-anchor="middle" font-size="15.8" fill="#222" font-family="Liberation Sans, sans-serif" stroke="#222" stroke-width="0.3">Mortality</text>
<text transform="translate(842.2,528.05) scale(0.87,1) rotate(-90)" text-anchor="middle" font-size="15.8" fill="#222" font-family="Liberation Sans, sans-serif" stroke="#222" stroke-width="0.3">rs2075110</text>
<text transform="translate(1135.6,482.2) scale(0.915,1)" font-size="15.8" fill="#222" font-family="Liberation Sans, sans-serif" stroke="#222" stroke-width="0.3">Ethnicities</text>
<ellipse cx="1147.6" cy="501.1" rx="3.95" ry="4.3" fill="#F5191C"/>
<text transform="translate(1166.4,507.6) scale(0.88,1)" font-size="12.9" fill="#2a2a2a" font-family="Liberation Sans, sans-serif" stroke="#2a2a2a" stroke-width="0.3">AFR</text>
<ellipse cx="1147.6" cy="526.3" rx="3.95" ry="4.3" fill="#0A7DBE"/>
<text transform="translate(1166.4,532.8) scale(0.88,1)" font-size="12.9" fill="#2a2a2a" font-family="Liberation Sans, sans-serif" stroke="#2a2a2a" stroke-width="0.3">AMR</text>
<ellipse cx="1147.6" cy="551.9" rx="3.95" ry="4.3" fill="#09B044"/>
<text transform="translate(1166.4,558.4) scale(0.88,1)" font-size="12.9" fill="#2a2a2a" font-family="Liberation Sans, sans-serif" stroke="#2a2a2a" stroke-width="0.3">EAS+SAS</text>
<ellipse cx="1147.6" cy="577.1" rx="3.95" ry="4.3" fill="#B04FB0"/>
<text transform="translate(1166.4,583.6) scale(0.88,1)" font-size="12.9" fill="#2a2a2a" font-family="Liberation Sans, sans-serif" stroke="#2a2a2a" stroke-width="0.3">EUR</text>
<clipPath id="c9"><rect x="54.4" y="665" width="235" height="158.9"/></clipPath>
<g clip-path="url(#c9)">
<line x1="54.4" x2="289.4" y1="811.82" y2="811.82" stroke="#E4E4E4" stroke-width="1.1"/>
<line x1="54.4" x2="289.4" y1="785.38" y2="785.38" stroke="#E4E4E4" stroke-width="1.1"/>
<line x1="54.4" x2="289.4" y1="758.94" y2="758.94" stroke="#E4E4E4" stroke-width="1.1"/>
<line x1="54.4" x2="289.4" y1="732.5" y2="732.5" stroke="#E4E4E4" stroke-width="1.1"/>
<line x1="54.4" x2="289.4" y1="706.06" y2="706.06" stroke="#E4E4E4" stroke-width="1.1"/>
<line x1="54.4" x2="289.4" y1="679.62" y2="679.62" stroke="#E4E4E4" stroke-width="1.1"/>
<line x1="111.78" x2="111.78" y1="665" y2="823.9" stroke="#E4E4E4" stroke-width="1.1"/>
<line x1="184.64" x2="184.64" y1="665" y2="823.9" stroke="#E4E4E4" stroke-width="1.1"/>
<line x1="257.51" x2="257.51" y1="665" y2="823.9" stroke="#E4E4E4" stroke-width="1.1"/>
<line x1="54.4" x2="289.4" y1="798.6" y2="798.6" stroke="#E4E4E4" stroke-width="1.3"/>
<line x1="54.4" x2="289.4" y1="772.16" y2="772.16" stroke="#E4E4E4" stroke-width="1.3"/>
<line x1="54.4" x2="289.4" y1="745.72" y2="745.72" stroke="#E4E4E4" stroke-width="1.3"/>
<line x1="54.4" x2="289.4" y1="719.28" y2="719.28" stroke="#E4E4E4" stroke-width="1.3"/>
<line x1="54.4" x2="289.4" y1="692.84" y2="692.84" stroke="#E4E4E4" stroke-width="1.3"/>
<line x1="54.4" x2="289.4" y1="666.4" y2="666.4" stroke="#E4E4E4" stroke-width="1.3"/>
<line x1="75.34" x2="75.34" y1="665" y2="823.9" stroke="#E4E4E4" stroke-width="1.3"/>
<line x1="148.21" x2="148.21" y1="665" y2="823.9" stroke="#E4E4E4" stroke-width="1.3"/>
<line x1="221.08" x2="221.08" y1="665" y2="823.9" stroke="#E4E4E4" stroke-width="1.3"/>
<line x1="64.41" y1="816.4" x2="278.28" y2="679.32" stroke="#000" stroke-width="2.2" stroke-linecap="butt"/>
<ellipse cx="64.41" cy="798.6" rx="3.95" ry="4.3" fill="#09B044"/>
<ellipse cx="109.01" cy="790" rx="3.95" ry="4.3" fill="#0A7DBE"/>
<ellipse cx="127.81" cy="798.6" rx="3.95" ry="4.3" fill="#B04FB0"/>
<ellipse cx="278.28" cy="672.1" rx="3.95" ry="4.3" fill="#F5191C"/>
<rect x="150.8" y="667.4" width="67" height="23.5" rx="3.2" fill="#fff" stroke="#333" stroke-width="1.4"/>
<text x="0" y="0" transform="translate(154.2,685.9) scale(0.862,1)" font-size="16.8" fill="#1e1e1e" font-family="Liberation Sans, sans-serif">r<tspan font-size="10" font-weight="bold" stroke="#1e1e1e" stroke-width="0.35" dy="-5.6" dx="0.3">2</tspan><tspan dy="5.6" dx="-0.2">= 0.924</tspan></text>
<text x="160.4" y="707.4" font-size="12.3" fill="#222" textLength="44.3" lengthAdjust="spacingAndGlyphs" font-family="Liberation Sans, sans-serif" stroke="#222" stroke-width="0.3"><tspan font-style="italic">p</tspan> = 0.039</text>
</g>
<rect x="54.4" y="665" width="235" height="158.9" fill="none" stroke="#BDBDBD" stroke-width="1.35"/>
<line x1="50.7" x2="54.4" y1="798.6" y2="798.6" stroke="#BDBDBD" stroke-width="1.1"/>
<text transform="translate(47,803.2) scale(0.88,1)" text-anchor="end" font-size="12.9" fill="#575757" font-family="Liberation Sans, sans-serif" stroke="#575757" stroke-width="0.3">0.00</text>
<line x1="50.7" x2="54.4" y1="772.16" y2="772.16" stroke="#BDBDBD" stroke-width="1.1"/>
<text transform="translate(47,776.76) scale(0.88,1)" text-anchor="end" font-size="12.9" fill="#575757" font-family="Liberation Sans, sans-serif" stroke="#575757" stroke-width="0.3">0.01</text>
<line x1="50.7" x2="54.4" y1="745.72" y2="745.72" stroke="#BDBDBD" stroke-width="1.1"/>
<text transform="translate(47,750.32) scale(0.88,1)" text-anchor="end" font-size="12.9" fill="#575757" font-family="Liberation Sans, sans-serif" stroke="#575757" stroke-width="0.3">0.02</text>
<line x1="50.7" x2="54.4" y1="719.28" y2="719.28" stroke="#BDBDBD" stroke-width="1.1"/>
<text transform="translate(47,723.88) scale(0.88,1)" text-anchor="end" font-size="12.9" fill="#575757" font-family="Liberation Sans, sans-serif" stroke="#575757" stroke-width="0.3">0.03</text>
<line x1="50.7" x2="54.4" y1="692.84" y2="692.84" stroke="#BDBDBD" stroke-width="1.1"/>
<text transform="translate(47,697.44) scale(0.88,1)" text-anchor="end" font-size="12.9" fill="#575757" font-family="Liberation Sans, sans-serif" stroke="#575757" stroke-width="0.3">0.04</text>
<line x1="50.7" x2="54.4" y1="666.4" y2="666.4" stroke="#BDBDBD" stroke-width="1.1"/>
<text transform="translate(47,671) scale(0.88,1)" text-anchor="end" font-size="12.9" fill="#575757" font-family="Liberation Sans, sans-serif" stroke="#575757" stroke-width="0.3">0.05</text>
<line x1="75.34" x2="75.34" y1="823.9" y2="827.6" stroke="#BDBDBD" stroke-width="1.1"/>
<text transform="translate(75.34,843.1) scale(0.88,1)" text-anchor="middle" font-size="12.9" fill="#575757" font-family="Liberation Sans, sans-serif" stroke="#575757" stroke-width="0.3">10</text>
<line x1="148.21" x2="148.21" y1="823.9" y2="827.6" stroke="#BDBDBD" stroke-width="1.1"/>
<text transform="translate(148.21,843.1) scale(0.88,1)" text-anchor="middle" font-size="12.9" fill="#575757" font-family="Liberation Sans, sans-serif" stroke="#575757" stroke-width="0.3">20</text>
<line x1="221.08" x2="221.08" y1="823.9" y2="827.6" stroke="#BDBDBD" stroke-width="1.1"/>
<text transform="translate(221.08,843.1) scale(0.88,1)" text-anchor="middle" font-size="12.9" fill="#575757" font-family="Liberation Sans, sans-serif" stroke="#575757" stroke-width="0.3">30</text>
<text transform="translate(171.9,862.2) scale(0.885,1)" text-anchor="middle" font-size="15.8" fill="#222" font-family="Liberation Sans, sans-serif" stroke="#222" stroke-width="0.3">Mortality</text>
<text transform="translate(17.6,744.45) scale(0.87,1) rotate(-90)" text-anchor="middle" font-size="15.8" fill="#222" font-family="Liberation Sans, sans-serif" stroke="#222" stroke-width="0.3">rs114798100</text>
<text transform="translate(310.7,698.6) scale(0.915,1)" font-size="15.8" fill="#222" font-family="Liberation Sans, sans-serif" stroke="#222" stroke-width="0.3">Ethnicities</text>
<ellipse cx="322.7" cy="717.5" rx="3.95" ry="4.3" fill="#F5191C"/>
<text transform="translate(341.5,724) scale(0.88,1)" font-size="12.9" fill="#2a2a2a" font-family="Liberation Sans, sans-serif" stroke="#2a2a2a" stroke-width="0.3">AFR</text>
<ellipse cx="322.7" cy="742.7" rx="3.95" ry="4.3" fill="#0A7DBE"/>
<text transform="translate(341.5,749.2) scale(0.88,1)" font-size="12.9" fill="#2a2a2a" font-family="Liberation Sans, sans-serif" stroke="#2a2a2a" stroke-width="0.3">AMR</text>
<ellipse cx="322.7" cy="768.3" rx="3.95" ry="4.3" fill="#09B044"/>
<text transform="translate(341.5,774.8) scale(0.88,1)" font-size="12.9" fill="#2a2a2a" font-family="Liberation Sans, sans-serif" stroke="#2a2a2a" stroke-width="0.3">EAS+SAS</text>
<ellipse cx="322.7" cy="793.5" rx="3.95" ry="4.3" fill="#B04FB0"/>
<text transform="translate(341.5,800) scale(0.88,1)" font-size="12.9" fill="#2a2a2a" font-family="Liberation Sans, sans-serif" stroke="#2a2a2a" stroke-width="0.3">EUR</text>
<clipPath id="c10"><rect x="459.5" y="665" width="242.7" height="158.9"/></clipPath>
<g clip-path="url(#c10)">
<line x1="459.5" x2="702.2" y1="813.38" y2="813.38" stroke="#E4E4E4" stroke-width="1.1"/>
<line x1="459.5" x2="702.2" y1="784.83" y2="784.83" stroke="#E4E4E4" stroke-width="1.1"/>
<line x1="459.5" x2="702.2" y1="756.28" y2="756.28" stroke="#E4E4E4" stroke-width="1.1"/>
<line x1="459.5" x2="702.2" y1="727.73" y2="727.73" stroke="#E4E4E4" stroke-width="1.1"/>
<line x1="459.5" x2="702.2" y1="699.18" y2="699.18" stroke="#E4E4E4" stroke-width="1.1"/>
<line x1="459.5" x2="702.2" y1="670.62" y2="670.62" stroke="#E4E4E4" stroke-width="1.1"/>
<line x1="518.76" x2="518.76" y1="665" y2="823.9" stroke="#E4E4E4" stroke-width="1.1"/>
<line x1="594.01" x2="594.01" y1="665" y2="823.9" stroke="#E4E4E4" stroke-width="1.1"/>
<line x1="669.27" x2="669.27" y1="665" y2="823.9" stroke="#E4E4E4" stroke-width="1.1"/>
<line x1="459.5" x2="702.2" y1="799.1" y2="799.1" stroke="#E4E4E4" stroke-width="1.3"/>
<line x1="459.5" x2="702.2" y1="770.55" y2="770.55" stroke="#E4E4E4" stroke-width="1.3"/>
<line x1="459.5" x2="702.2" y1="742" y2="742" stroke="#E4E4E4" stroke-width="1.3"/>
<line x1="459.5" x2="702.2" y1="713.45" y2="713.45" stroke="#E4E4E4" stroke-width="1.3"/>
<line x1="459.5" x2="702.2" y1="684.9" y2="684.9" stroke="#E4E4E4" stroke-width="1.3"/>
<line x1="481.13" x2="481.13" y1="665" y2="823.9" stroke="#E4E4E4" stroke-width="1.3"/>
<line x1="556.38" x2="556.38" y1="665" y2="823.9" stroke="#E4E4E4" stroke-width="1.3"/>
<line x1="631.64" x2="631.64" y1="665" y2="823.9" stroke="#E4E4E4" stroke-width="1.3"/>
<line x1="469.84" y1="671.22" x2="690.72" y2="808.98" stroke="#000" stroke-width="2.2" stroke-linecap="butt"/>
<ellipse cx="469.84" cy="692.7" rx="3.95" ry="4.3" fill="#09B044"/>
<ellipse cx="515.9" cy="686.1" rx="3.95" ry="4.3" fill="#0A7DBE"/>
<ellipse cx="535.31" cy="697.1" rx="3.95" ry="4.3" fill="#B04FB0"/>
<ellipse cx="690.72" cy="816.3" rx="3.95" ry="4.3" fill="#F5191C"/>
<rect x="560" y="662.9" width="67" height="23.5" rx="3.2" fill="#fff" stroke="#333" stroke-width="1.4"/>
<text x="0" y="0" transform="translate(563.7,682.6) scale(0.862,1)" font-size="16.8" fill="#1e1e1e" font-family="Liberation Sans, sans-serif">r<tspan font-size="10" font-weight="bold" stroke="#1e1e1e" stroke-width="0.35" dy="-5.6" dx="0.3">2</tspan><tspan dy="5.6" dx="-0.2">= 0.919</tspan></text>
<text x="571.3" y="704.2" font-size="12.3" fill="#222" textLength="44.3" lengthAdjust="spacingAndGlyphs" font-family="Liberation Sans, sans-serif" stroke="#222" stroke-width="0.3"><tspan font-style="italic">p</tspan> = 0.041</text>
</g>
<rect x="459.5" y="665" width="242.7" height="158.9" fill="none" stroke="#BDBDBD" stroke-width="1.35"/>
<line x1="455.8" x2="459.5" y1="799.1" y2="799.1" stroke="#BDBDBD" stroke-width="1.1"/>
<text transform="translate(452.1,803.7) scale(0.88,1)" text-anchor="end" font-size="12.9" fill="#575757" font-family="Liberation Sans, sans-serif" stroke="#575757" stroke-width="0.3">0.5</text>
<line x1="455.8" x2="459.5" y1="770.55" y2="770.55" stroke="#BDBDBD" stroke-width="1.1"/>
<text transform="translate(452.1,775.15) scale(0.88,1)" text-anchor="end" font-size="12.9" fill="#575757" font-family="Liberation Sans, sans-serif" stroke="#575757" stroke-width="0.3">0.6</text>
<line x1="455.8" x2="459.5" y1="742" y2="742" stroke="#BDBDBD" stroke-width="1.1"/>
<text transform="translate(452.1,746.6) scale(0.88,1)" text-anchor="end" font-size="12.9" fill="#575757" font-family="Liberation Sans, sans-serif" stroke="#575757" stroke-width="0.3">0.7</text>
<line x1="455.8" x2="459.5" y1="713.45" y2="713.45" stroke="#BDBDBD" stroke-width="1.1"/>
<text transform="translate(452.1,718.05) scale(0.88,1)" text-anchor="end" font-size="12.9" fill="#575757" font-family="Liberation Sans, sans-serif" stroke="#575757" stroke-width="0.3">0.8</text>
<line x1="455.8" x2="459.5" y1="684.9" y2="684.9" stroke="#BDBDBD" stroke-width="1.1"/>
<text transform="translate(452.1,689.5) scale(0.88,1)" text-anchor="end" font-size="12.9" fill="#575757" font-family="Liberation Sans, sans-serif" stroke="#575757" stroke-width="0.3">0.9</text>
<line x1="481.13" x2="481.13" y1="823.9" y2="827.6" stroke="#BDBDBD" stroke-width="1.1"/>
<text transform="translate(481.13,843.1) scale(0.88,1)" text-anchor="middle" font-size="12.9" fill="#575757" font-family="Liberation Sans, sans-serif" stroke="#575757" stroke-width="0.3">10</text>
<line x1="556.38" x2="556.38" y1="823.9" y2="827.6" stroke="#BDBDBD" stroke-width="1.1"/>
<text transform="translate(556.38,843.1) scale(0.88,1)" text-anchor="middle" font-size="12.9" fill="#575757" font-family="Liberation Sans, sans-serif" stroke="#575757" stroke-width="0.3">20</text>
<line x1="631.64" x2="631.64" y1="823.9" y2="827.6" stroke="#BDBDBD" stroke-width="1.1"/>
<text transform="translate(631.64,843.1) scale(0.88,1)" text-anchor="middle" font-size="12.9" fill="#575757" font-family="Liberation Sans, sans-serif" stroke="#575757" stroke-width="0.3">30</text>
<text transform="translate(580.85,862.2) scale(0.885,1)" text-anchor="middle" font-size="15.8" fill="#222" font-family="Liberation Sans, sans-serif" stroke="#222" stroke-width="0.3">Mortality</text>
<text transform="translate(429.4,744.45) scale(0.87,1) rotate(-90)" text-anchor="middle" font-size="15.8" fill="#222" font-family="Liberation Sans, sans-serif" stroke="#222" stroke-width="0.3">rs855723</text>
<text transform="translate(723.4,698.6) scale(0.915,1)" font-size="15.8" fill="#222" font-family="Liberation Sans, sans-serif" stroke="#222" stroke-width="0.3">Ethnicities</text>
<ellipse cx="735.4" cy="717.5" rx="3.95" ry="4.3" fill="#F5191C"/>
<text transform="translate(754.2,724) scale(0.88,1)" font-size="12.9" fill="#2a2a2a" font-family="Liberation Sans, sans-serif" stroke="#2a2a2a" stroke-width="0.3">AFR</text>
<ellipse cx="735.4" cy="742.7" rx="3.95" ry="4.3" fill="#0A7DBE"/>
<text transform="translate(754.2,749.2) scale(0.88,1)" font-size="12.9" fill="#2a2a2a" font-family="Liberation Sans, sans-serif" stroke="#2a2a2a" stroke-width="0.3">AMR</text>
<ellipse cx="735.4" cy="768.3" rx="3.95" ry="4.3" fill="#09B044"/>
<text transform="translate(754.2,774.8) scale(0.88,1)" font-size="12.9" fill="#2a2a2a" font-family="Liberation Sans, sans-serif" stroke="#2a2a2a" stroke-width="0.3">EAS+SAS</text>
<ellipse cx="735.4" cy="793.5" rx="3.95" ry="4.3" fill="#B04FB0"/>
<text transform="translate(754.2,800) scale(0.88,1)" font-size="12.9" fill="#2a2a2a" font-family="Liberation Sans, sans-serif" stroke="#2a2a2a" stroke-width="0.3">EUR</text>
<clipPath id="c11"><rect x="879.4" y="665" width="235.4" height="158.9"/></clipPath>
<g clip-path="url(#c11)">
<line x1="879.4" x2="1114.8" y1="797.65" y2="797.65" stroke="#E4E4E4" stroke-width="1.1"/>
<line x1="879.4" x2="1114.8" y1="740.15" y2="740.15" stroke="#E4E4E4" stroke-width="1.1"/>
<line x1="879.4" x2="1114.8" y1="682.65" y2="682.65" stroke="#E4E4E4" stroke-width="1.1"/>
<line x1="936.87" x2="936.87" y1="665" y2="823.9" stroke="#E4E4E4" stroke-width="1.1"/>
<line x1="1009.87" x2="1009.87" y1="665" y2="823.9" stroke="#E4E4E4" stroke-width="1.1"/>
<line x1="1082.86" x2="1082.86" y1="665" y2="823.9" stroke="#E4E4E4" stroke-width="1.1"/>
<line x1="879.4" x2="1114.8" y1="768.9" y2="768.9" stroke="#E4E4E4" stroke-width="1.3"/>
<line x1="879.4" x2="1114.8" y1="711.4" y2="711.4" stroke="#E4E4E4" stroke-width="1.3"/>
<line x1="900.38" x2="900.38" y1="665" y2="823.9" stroke="#E4E4E4" stroke-width="1.3"/>
<line x1="973.37" x2="973.37" y1="665" y2="823.9" stroke="#E4E4E4" stroke-width="1.3"/>
<line x1="1046.36" x2="1046.36" y1="665" y2="823.9" stroke="#E4E4E4" stroke-width="1.3"/>
<line x1="889.43" y1="808.37" x2="1103.66" y2="672.1" stroke="#000" stroke-width="2.2" stroke-linecap="butt"/>
<ellipse cx="889.43" cy="816.3" rx="3.95" ry="4.3" fill="#09B044"/>
<ellipse cx="934.1" cy="753.2" rx="3.95" ry="4.3" fill="#0A7DBE"/>
<ellipse cx="952.93" cy="786.8" rx="3.95" ry="4.3" fill="#B04FB0"/>
<ellipse cx="1103.66" cy="672.1" rx="3.95" ry="4.3" fill="#F5191C"/>
<rect x="975.4" y="664.4" width="67" height="23.5" rx="3.2" fill="#fff" stroke="#333" stroke-width="1.4"/>
<text x="0" y="0" transform="translate(979.2,683.6) scale(0.862,1)" font-size="16.8" fill="#1e1e1e" font-family="Liberation Sans, sans-serif">r<tspan font-size="10" font-weight="bold" stroke="#1e1e1e" stroke-width="0.35" dy="-5.6" dx="0.3">2</tspan><tspan dy="5.6" dx="-0.2">= 0.905</tspan></text>
<text x="990.2" y="704.9" font-size="12.3" fill="#222" textLength="45.2" lengthAdjust="spacingAndGlyphs" font-family="Liberation Sans, sans-serif" stroke="#222" stroke-width="0.3"><tspan font-style="italic">p</tspan> = 0.048</text>
</g>
<rect x="879.4" y="665" width="235.4" height="158.9" fill="none" stroke="#BDBDBD" stroke-width="1.35"/>
<line x1="875.7" x2="879.4" y1="768.9" y2="768.9" stroke="#BDBDBD" stroke-width="1.1"/>
<text transform="translate(872,773.5) scale(0.88,1)" text-anchor="end" font-size="12.9" fill="#575757" font-family="Liberation Sans, sans-serif" stroke="#575757" stroke-width="0.3">0.50</text>
<line x1="875.7" x2="879.4" y1="711.4" y2="711.4" stroke="#BDBDBD" stroke-width="1.1"/>
<text transform="translate(872,716) scale(0.88,1)" text-anchor="end" font-size="12.9" fill="#575757" font-family="Liberation Sans, sans-serif" stroke="#575757" stroke-width="0.3">0.55</text>
<line x1="900.38" x2="900.38" y1="823.9" y2="827.6" stroke="#BDBDBD" stroke-width="1.1"/>
<text transform="translate(900.38,843.1) scale(0.88,1)" text-anchor="middle" font-size="12.9" fill="#575757" font-family="Liberation Sans, sans-serif" stroke="#575757" stroke-width="0.3">10</text>
<line x1="973.37" x2="973.37" y1="823.9" y2="827.6" stroke="#BDBDBD" stroke-width="1.1"/>
<text transform="translate(973.37,843.1) scale(0.88,1)" text-anchor="middle" font-size="12.9" fill="#575757" font-family="Liberation Sans, sans-serif" stroke="#575757" stroke-width="0.3">20</text>
<line x1="1046.36" x2="1046.36" y1="823.9" y2="827.6" stroke="#BDBDBD" stroke-width="1.1"/>
<text transform="translate(1046.36,843.1) scale(0.88,1)" text-anchor="middle" font-size="12.9" fill="#575757" font-family="Liberation Sans, sans-serif" stroke="#575757" stroke-width="0.3">30</text>
<text transform="translate(997.1,862.2) scale(0.885,1)" text-anchor="middle" font-size="15.8" fill="#222" font-family="Liberation Sans, sans-serif" stroke="#222" stroke-width="0.3">Mortality</text>
<text transform="translate(842.2,744.45) scale(0.87,1) rotate(-90)" text-anchor="middle" font-size="15.8" fill="#222" font-family="Liberation Sans, sans-serif" stroke="#222" stroke-width="0.3">rs2075109</text>
<text transform="translate(1135.6,698.6) scale(0.915,1)" font-size="15.8" fill="#222" font-family="Liberation Sans, sans-serif" stroke="#222" stroke-width="0.3">Ethnicities</text>
<ellipse cx="1147.6" cy="717.5" rx="3.95" ry="4.3" fill="#F5191C"/>
<text transform="translate(1166.4,724) scale(0.88,1)" font-size="12.9" fill="#2a2a2a" font-family="Liberation Sans, sans-serif" stroke="#2a2a2a" stroke-width="0.3">AFR</text>
<ellipse cx="1147.6" cy="742.7" rx="3.95" ry="4.3" fill="#0A7DBE"/>
<text transform="translate(1166.4,749.2) scale(0.88,1)" font-size="12.9" fill="#2a2a2a" font-family="Liberation Sans, sans-serif" stroke="#2a2a2a" stroke-width="0.3">AMR</text>
<ellipse cx="1147.6" cy="768.3" rx="3.95" ry="4.3" fill="#09B044"/>
<text transform="translate(1166.4,774.8) scale(0.88,1)" font-size="12.9" fill="#2a2a2a" font-family="Liberation Sans, sans-serif" stroke="#2a2a2a" stroke-width="0.3">EAS+SAS</text>
<ellipse cx="1147.6" cy="793.5" rx="3.95" ry="4.3" fill="#B04FB0"/>
<text transform="translate(1166.4,800) scale(0.88,1)" font-size="12.9" fill="#2a2a2a" font-family="Liberation Sans, sans-serif" stroke="#2a2a2a" stroke-width="0.3">EUR</text>
</svg>
</body></html>
